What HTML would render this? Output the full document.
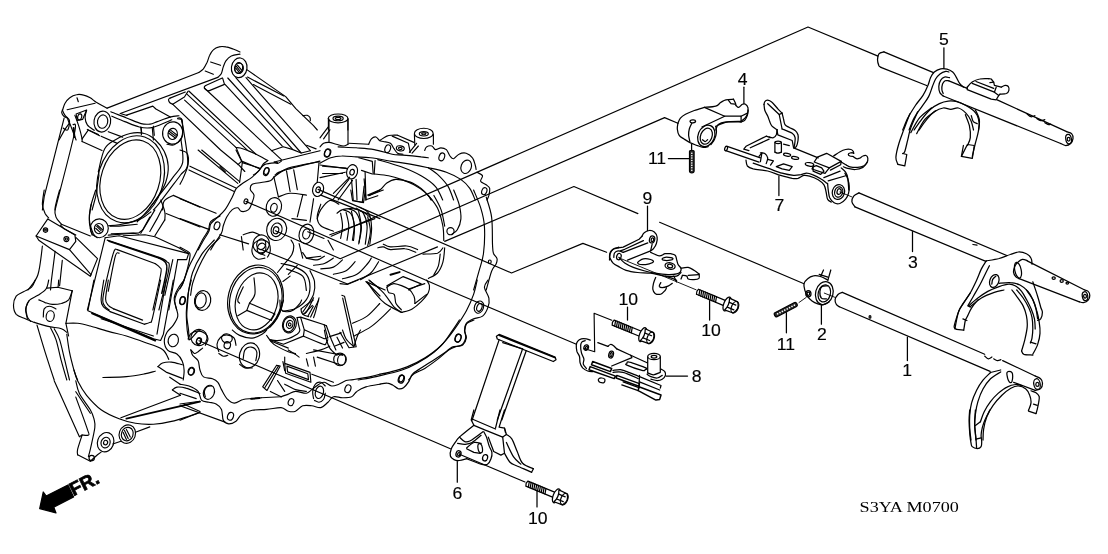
<!DOCTYPE html>
<html lang="en">
<head>
<meta charset="utf-8">
<title>S3YA M0700 - MT Shift Fork</title>
<style>
html,body{margin:0;padding:0;background:#fff;}
body{width:1108px;height:554px;overflow:hidden;}
svg{display:block;filter:grayscale(1);}
svg path,svg ellipse{fill:none;stroke:#000;stroke-width:1.25;stroke-linecap:round;stroke-linejoin:round;}
svg .case path,svg .case ellipse{stroke-width:1.15;}
svg .f{fill:#000;}
svg .w{fill:#fff;}
svg text{font-family:"Liberation Sans",sans-serif;fill:#000;}
svg text.lb{stroke:#000;stroke-width:0.15;}
svg text.ser{font-family:"Liberation Serif",serif;}
</style>
</head>
<body>
<svg width="1108" height="554" viewBox="0 0 1108 554">
<g class="case" id="g10_case_topleft">
<path d="M62.6 110C63 109 63.7 105.6 64.9 103.5C66.1 101.5 67.9 99.2 69.8 97.8C71.7 96.3 74.1 95.1 76.5 94.7C78.8 94.2 81.4 94.5 83.7 95.1C86 95.6 88.1 96.6 90.2 97.8C92.3 99 93.5 100.5 96.3 102.3C99.1 104 105.3 107.2 107.1 108.2"/>
<path d="M67.1 109.7 L95.1 103.2"/>
<path d="M77 97.8 L78.3 101.7"/>
<path d="M62.6 110C62.4 110.5 61.5 111.5 61.7 112.6C61.9 113.6 62.9 115.3 63.8 116.2C64.8 117.1 66.8 117.7 67.4 118"/>
<path d="M67.4 118 L69.2 123.4 L64.9 129.4 L59 140"/>
<path d="M76.1 114 L86.6 110 L82.6 119.4 L77.2 120.5Z"/>
<ellipse cx="79.7" cy="116.9" rx="2" ry="3.1" transform="rotate(15 79.7 116.9)"/>
<ellipse cx="102.3" cy="121.6" rx="8.3" ry="10.5" transform="rotate(10 102.3 121.6)"/>
<ellipse cx="102.6" cy="121.6" rx="5.1" ry="6.7" transform="rotate(10 102.6 121.6)"/>
<path d="M86.6 110.4C86.3 111.6 85 115.2 85.1 117.6C85.2 120 85.8 122.7 87.3 124.8C88.8 126.9 93 129.4 94.2 130.3"/>
<path d="M69.8 123.4 L76.1 140"/>
<path d="M87.3 129.4 L99.6 135.7"/>
<path d="M107.1 108.1 L198.8 72.5"/>
<path d="M198.8 72.5C199.6 71.9 202 70.5 203.4 68.9C204.7 67.2 205.9 64.8 207 62.6C208 60.3 208.6 57.4 209.7 55.3C210.7 53.2 211.7 51.3 213.3 49.9C214.8 48.5 217 47.4 219.1 46.9C221.2 46.3 223.6 46.5 225.9 46.9C228.3 47.2 230.8 48.2 233.1 49C235.5 49.9 238.9 51.4 240 51.9"/>
<path d="M120.3 113.5 L217.8 77.4"/>
<path d="M217.8 77.4C218.4 76.7 220.5 75.1 221.4 73.4C222.3 71.7 222.5 69.2 223.2 67.1C224 65 224.6 62.6 225.9 60.8C227.3 58.9 229 57 231.3 55.9C233.7 54.8 238.6 54.4 240 54.1"/>
<path d="M210.6 62 L220.5 65.3"/>
<path d="M205.2 71 L213.3 74.3"/>
<path d="M110.8 111.8C113.4 112.9 121.6 116 126.6 118C131.7 119.9 137.2 122.6 141.1 123.6C145 124.6 147.4 124.4 150.1 124.1C152.8 123.8 154 122.8 157.3 121.6C160.6 120.4 166.4 118 170 117.1C173.6 116.1 177.5 116 179 115.8"/>
<path d="M111.8 116.2C114 117.1 120.3 119.8 124.8 121.6C129.4 123.4 135.1 126 139.3 127C143.5 128.1 146.8 128.2 150.1 127.9C153.4 127.6 155.5 126.6 159.1 125.2C162.7 123.8 169.7 120.7 171.8 119.8"/>
<path d="M126.6 115.1 L152.8 106.1 L155.9 109 L170.3 117.1"/>
<path d="M120.3 113.5 L127 115.5"/>
<path d="M141.1 127.4 L141.4 134.8"/>
<path d="M152.3 127.9 L153.4 140"/>
<ellipse cx="172.7" cy="133" rx="10.1" ry="11.2" transform="rotate(8 172.7 133)"/>
<ellipse cx="172.7" cy="133.9" rx="4.7" ry="5.6" transform="rotate(8 172.7 133.9)"/>
<path d="M177.5 118.7 L181.9 119.4 L182.6 123.4"/>
<path d="M169.1 131.2 L176.3 136.6"/>
<path d="M170.3 129.9 L177.2 135.3"/>
<path d="M168.5 133 L175 137.8"/>
<path d="M172.7 104.3C172.2 104 170.3 103.2 169.6 102.5C168.9 101.7 168.5 100.3 168.5 99.6C168.6 98.8 169.7 98.4 170 98.1"/>
<path d="M170 98.1 L185.3 92"/>
<path d="M188 91.4 L184.4 97 L172.7 104.3"/>
<path d="M208.8 90.9C208.3 90.7 206.5 90.3 205.7 89.6C205 89 204.3 87.6 204.3 86.9C204.3 86.2 205.5 85.7 205.7 85.5"/>
<path d="M205.7 85.5 L222.3 77.9"/>
<path d="M222.7 78.3 L224.5 84.4 L208.8 90.9"/>
<ellipse cx="238.6" cy="68" rx="4" ry="5.4" transform="rotate(8 238.6 68)"/>
</g>
<g class="case" id="g11_case_ribs">
<ellipse cx="239.2" cy="67.8" rx="7.8" ry="9.9" transform="rotate(8 239.2 67.8)"/>
<ellipse cx="239.2" cy="68.3" rx="4.2" ry="5.1" transform="rotate(8 239.2 68.3)"/>
<path d="M236.4 66.3 L240.8 72"/>
<path d="M237.4 65.1 L242.1 70.7"/>
<path d="M235.8 68.2 L240 73.3"/>
<path d="M247.2 69.9 L285.7 96.6 L295.8 108.6 L313.5 125.7 L317.3 130"/>
<path d="M247.5 77.1 L283.8 96"/>
<path d="M253.5 84.6 L290.8 104.2"/>
<path d="M302.8 115.6C303.5 115.6 306 115 307.2 115.3C308.4 115.7 309.4 116.6 310 117.5C310.5 118.4 310.3 120.1 310.3 120.7"/>
<ellipse cx="338.1" cy="118.4" rx="9.9" ry="4.4"/>
<ellipse cx="338.1" cy="118.4" rx="5.1" ry="2.3"/>
<ellipse cx="338.1" cy="118.4" rx="2.8" ry="1.1"/>
<path d="M328.4 118.8 L328.4 130"/>
<path d="M347.9 118.8 L347.9 130"/>
<path d="M172.6 104.2 L220.6 150 L238.5 164.7 L244.8 171.5"/>
<path d="M184.6 100.1 L236.2 147.6"/>
<path d="M187.2 94.4 L247.1 149.8"/>
<path d="M188.8 91 L256.1 154.3"/>
<path d="M204.3 88 L281.4 159.7"/>
<path d="M225 84.4 L282.3 146.2"/>
<path d="M227.8 78 L292.2 148.9"/>
<path d="M235.8 77.7 L301.2 153"/>
<path d="M246 77.7 L310.3 150.7"/>
<path d="M236.2 147.6 L241.7 161.1 L238 164.7"/>
<path d="M236.2 147.6C236.9 147.7 238.5 147.6 240.3 148C242.1 148.4 244.5 149.2 247.1 150.3C249.7 151.4 252.7 152.6 256.1 154.3C259.6 156 265.9 159.6 267.8 160.6"/>
<path d="M241.7 161.1 L259.7 168.8"/>
<path d="M271.4 150.7 L283.2 146.7 L292.2 149.4 L301.2 153 L310.3 150.7"/>
<path d="M306.6 145.3 L316.1 148.9"/>
<path d="M274.2 162 L320 150.7"/>
<path d="M267.8 160.6C267.1 161.1 264.5 162.5 263.3 163.8C262.1 165.1 261.5 167 260.6 168.3C259.7 169.7 259.1 170.8 257.9 171.9C256.7 173 254.2 174.5 253.4 175"/>
<path d="M274.2 162C274.8 162.2 276.6 163.6 277.8 163.4C279 163.2 280.8 161.5 281.4 161.1"/>
<ellipse cx="266.5" cy="171" rx="2.3" ry="3.6" transform="rotate(20 266.5 171)"/>
<path d="M275 175C276.4 174.3 275.7 172.9 283.2 170.6C290.7 168.3 313.9 162.7 320 161.1"/>
<path d="M220 166.5 L225.4 172"/>
</g>
<g class="case" id="g12_case_left">
<ellipse cx="130.3" cy="179.6" rx="29.1" ry="40.7" transform="rotate(18.4 130.3 179.6)"/>
<ellipse cx="130.6" cy="179.3" rx="32.5" ry="44.5" transform="rotate(18.4 130.6 179.3)"/>
<path d="M98.4 171.4C99.4 167.6 101.8 154.1 104.7 148.8C107.6 143.5 111.3 142.3 115.5 139.8C119.7 137.2 125.2 134.5 130 133.5C134.8 132.4 140.2 132.4 144.4 133.5C148.6 134.5 151.9 136.8 155.2 139.8C158.5 142.8 162.1 147.2 164.3 151.5C166.4 155.9 168 160.8 168.2 166C168.5 171.1 167.4 177.1 165.7 182.2C164 187.3 161 191.8 157.9 196.6C154.8 201.5 150.6 206.9 147.1 211.1C143.7 215.3 138.8 220.1 137.2 221.9"/>
<path d="M98.4 171.4 L98.9 175.3 L95.7 196.6 L92.1 210"/>
<path d="M62.3 110C62.7 110.9 63.8 113.6 65 115.4C66.2 117.2 69 118.4 69.5 120.8C69.9 123.2 68.7 128.7 67.7 129.9C66.6 131.1 63.9 128.4 63.2 128.1"/>
<path d="M64.1 118.1 L44.2 196.6 L42.4 210"/>
<path d="M73.1 124.4C73.3 125.9 77.4 119.2 74.4 133.5C71.4 147.7 58.3 197.2 55.1 210"/>
<path style="stroke-width:2" d="M73.6 128.1 L74.4 137.1"/>
<path d="M74.9 115.4C75.7 117.5 78.2 124.1 79.4 128.1C80.6 132 81.7 137.1 82.1 138.9"/>
<path d="M82.1 141.6 L102 150.6"/>
<path d="M82.1 138.9 L82.1 141.6"/>
<path d="M82.1 138.9 L88.4 129.9 L98.4 134.4"/>
<path d="M108.3 131.7 L122.7 137.1"/>
<path d="M101.1 136.2 L117.3 143.4"/>
<path d="M140.8 127.1 L141.7 132.6"/>
<path d="M153.4 126.2 L154.3 135.3"/>
<path d="M177.8 118.1C178.4 118.3 180.6 116.8 181.4 119C182.2 121.3 182.8 128.4 182.7 131.7C182.6 135 182.3 136.7 180.9 138.9C179.5 141.1 176.5 143.9 174.2 144.8C171.9 145.7 168.2 144.4 167 144.3"/>
<path d="M181.4 119C181.9 121.4 183.1 125.9 184.1 133.5C185.2 141 188.3 157.2 187.7 164.2C187.1 171.1 183.5 170.8 180.5 175C177.5 179.2 173.3 184.6 169.7 189.4C166.1 194.2 161.6 200.4 158.8 203.9C156.1 207.3 154.3 209 153.4 210"/>
<path d="M180.9 138.9C181.2 142.8 183.9 156 182.7 162.3C181.4 168.7 176.7 172 173.3 176.8C169.9 181.6 166.4 186.1 162.5 191.2C158.5 196.3 151.9 204.8 149.8 207.5"/>
<ellipse cx="99.3" cy="228.3" rx="9" ry="9.4"/>
<ellipse cx="98.9" cy="228.6" rx="4.5" ry="5.1"/>
<path d="M96.6 226.1 L101.1 230.6"/>
<path d="M97.5 225.2 L102.5 229.7"/>
<path d="M95.7 228.3 L100.2 232.4"/>
<path d="M95.7 190C94.8 193 91.3 202.6 90.3 208.1C89.2 213.5 89 218 89.4 222.5C89.7 227 91.6 233 92.1 235.1"/>
<path d="M108.3 235.1 L133.6 233.3 L139 234.2"/>
<path d="M110.1 226.1 L119.1 226.1 L137.2 224.3"/>
<path d="M173.3 195.4 L200 207.1"/>
<path d="M166.1 213.5 L200 227"/>
<path d="M162.5 209.9C162.8 208.4 162.5 203.2 164.3 200.8C166.1 198.4 171.8 196.3 173.3 195.4"/>
<path d="M162.5 208.1 L157 218.9 L149.8 231.5"/>
<path d="M140.8 233.3 L149.8 217.1"/>
<path d="M44.2 190C43.9 192.4 42.3 200.5 42.4 204.4C42.6 208.4 44.1 211.2 45.1 213.5C46.2 215.7 48.1 217.2 48.7 218"/>
<path d="M59.6 190C58.8 193 55.7 203.5 55.1 208.1C54.5 212.6 54.9 214.4 56 217.1C57 219.8 60.5 223.1 61.4 224.3"/>
<path d="M61.4 224.3 L90.3 236"/>
<path d="M36.1 236 L47.8 218.9 L74.9 235.1 L75.8 241.4 L69.5 249.6Z"/>
<ellipse cx="45.5" cy="230.1" rx="2.2" ry="2.2"/>
<ellipse cx="66.4" cy="239.1" rx="2.5" ry="2.5"/>
<ellipse cx="45.5" cy="230.1" rx="0.9" ry="0.9"/>
<ellipse cx="66.4" cy="239.1" rx="1.1" ry="1.1"/>
<path d="M36.1 236 L38.8 240.2 L90.3 276.3 L97.5 258.6 L75.8 237.3"/>
<path d="M69.5 249.6 L91.2 274.8"/>
<path d="M60.5 225.2 L64.1 228.8 L75.8 235.1"/>
<path d="M42.4 246C41.7 250.8 40.3 267.5 37.9 274.8C35.5 282.2 29.6 287.5 28 290"/>
<path d="M55.1 251.4C54.5 256.2 52.2 273.8 51.4 280.3C50.7 286.7 50.7 288.4 50.5 290"/>
<path d="M62.3 260.4 L59.6 285.7"/>
</g>
<g class="case" id="g13_case_lowerleft">
<path d="M35.2 280C34.6 281.2 33.5 285.3 31.6 287.2C29.6 289.2 26 290.2 23.5 291.7C20.9 293.2 17.9 294 16.2 296.2C14.6 298.5 13.5 302.3 13.5 305.3C13.5 308.3 14.3 312 16.2 314.3C18.2 316.6 22.3 317.5 25.3 318.8C28.3 320.2 32.8 321.8 34.3 322.4"/>
<path d="M48.7 280C48.3 281.5 47.8 286.5 46 289C44.2 291.6 40.6 293.5 37.9 295.3C35.2 297.1 31.7 297.9 29.8 299.9C27.8 301.8 26.6 304.4 26.2 307.1C25.7 309.8 26.3 313.7 27.1 316.1C27.8 318.5 30.1 320.6 30.7 321.5"/>
<path d="M28.9 300.8C28.3 302.1 25.9 305.9 25.6 308.9C25.4 311.9 27.1 317.2 27.4 318.8"/>
<path d="M46.9 288.1 L57.8 287.2 L72.2 290.8"/>
<path d="M72.2 290.8C71.6 292.3 70.4 297.7 68.6 299.9C66.8 302 64.1 302.7 61.4 303.5C58.7 304.2 55.1 304.5 52.3 304.4C49.6 304.2 47.4 303.3 45.1 302.6C42.9 301.8 39.9 300.3 38.8 299.9"/>
<ellipse cx="50.2" cy="316.1" rx="4" ry="5.4" transform="rotate(10 50.2 316.1)"/>
<path d="M43.3 317C43.5 315.6 43.2 310.7 44.2 308.9C45.3 307.1 47.7 306.2 49.6 306.2C51.6 306.2 54.9 308.4 56 308.9"/>
<path d="M72.2 290.8 L65.9 323.3 L68.6 336"/>
<path d="M65.9 323.3C67.8 323.3 73.6 322.9 77.6 323.3C81.7 323.8 85.1 324.7 90.3 326C95.4 327.4 102.3 329.8 108.3 331.4C114.3 333.1 120.3 334.2 126.4 336C132.4 337.8 138.4 340 144.4 342.3C150.4 344.5 158.4 346.6 162.5 349.5C166.5 352.4 167.7 357.8 168.8 359.4"/>
<path d="M34.3 322.4C35.8 322.9 40.6 324.4 43.3 325.1C46 325.9 47.5 326.3 50.5 326.9C53.5 327.5 58.7 327.8 61.4 328.7C64.1 329.6 65.9 331.7 66.8 332.3"/>
<path d="M37 325.1C38.4 329.6 42.3 343.1 45.1 352.2C48 361.3 52.6 375.4 54.2 380"/>
<path d="M50.5 327.8C51.4 329.8 54.2 334 56 339.6C57.8 345.1 59.6 354.5 61.4 361.2C63.2 368 65.9 376.9 66.8 380"/>
<path d="M54.2 328.7C55.1 330.5 57.8 334.2 59.6 339.6C61.4 345 63.3 354.5 65 361.2C66.6 368 68.7 376.9 69.5 380"/>
<path d="M66.8 334.2C67.2 337.2 68.3 346.2 69.5 352.2C70.7 358.2 72.7 365.6 74 370.3C75.4 374.9 77 378.4 77.6 380"/>
<path d="M58.7 280 L58.1 287.2"/>
<path d="M93.9 280 L87.9 310.7 L153.4 338.7 L160.6 340.5 L163.4 334.2 L173.3 280"/>
<path d="M103.8 280C103.3 283.3 101.1 295.3 101.1 299.9C101.1 304.4 102.3 305.1 103.8 307.1C105.3 309 109.1 310.8 110.1 311.6"/>
<path d="M110.1 311.6 L144.4 324.2"/>
<path d="M144.4 324.2C145.3 323.9 148.5 323.5 149.8 322.4C151.2 321.4 150.7 325 152.5 317.9C154.3 310.8 159.3 286.3 160.6 280"/>
<path d="M108.3 280C107.9 283.2 105.6 294.7 105.6 299C105.6 303.2 106.9 303.6 108.3 305.3C109.7 306.9 112.8 308.3 113.7 308.9"/>
<path d="M113.7 308.9 L142.6 320.1"/>
<path style="stroke-width:2" d="M92.1 313.4 L155.2 340.5"/>
<path d="M166.1 280 L157 334.2"/>
<path d="M101.1 318.8 L153.4 336"/>
<ellipse cx="182.3" cy="300.8" rx="2.5" ry="4" transform="rotate(15 182.3 300.8)"/>
<ellipse cx="173.3" cy="340.5" rx="5.1" ry="6.3" transform="rotate(15 173.3 340.5)"/>
<ellipse cx="191.3" cy="371.2" rx="3.2" ry="4" transform="rotate(15 191.3 371.2)"/>
<ellipse cx="198.6" cy="341.4" rx="2.2" ry="3.2" transform="rotate(15 198.6 341.4)"/>
<path d="M184.1 280C183.1 281.5 179.5 286 177.8 289C176.1 292 174.5 295 174.2 298.1C173.9 301.1 175.4 304.1 176 307.1C176.6 310.1 178.2 313.1 177.8 316.1C177.3 319.1 175.1 322.4 173.3 325.1C171.5 327.8 168.5 329.6 167 332.3C165.5 335.1 164.1 338.4 164.3 341.4C164.4 344.4 165.8 348.3 167.9 350.4C170 352.5 174.5 352.2 176.9 354C179.3 355.8 181.1 358.5 182.3 361.2C183.5 363.9 184 367.1 184.1 370.3C184.3 373.4 183.4 378.4 183.2 380"/>
<path d="M191.3 280C190.9 281.8 189.2 287.2 188.6 290.8C188 294.4 188 297.4 187.7 301.7C187.4 305.9 186.7 311.3 186.8 316.1C187 320.9 188.2 326.6 188.6 330.5C189.1 334.5 188.2 339.3 189.5 339.6C190.9 339.9 195 333.9 196.8 332.3C198.5 330.8 199.5 330.8 200 330.5"/>
<path d="M157.9 366.6C158.7 366 160.2 363.8 162.5 363C164.7 362.3 168.2 361.8 171.5 362.1C174.8 362.4 180.5 364.4 182.3 364.8"/>
<path d="M157.9 366.6 L166.1 372.1 L182.3 378.4"/>
<path d="M102.9 377.5C106.8 377.3 119.4 377.2 126.4 376.6C133.3 376 139.6 374.8 144.4 373.9C149.2 373 153.4 371.6 155.2 371.2"/>
<path d="M54.2 380.8 L79.4 436.8 L82.1 435"/>
<path d="M82.1 435C81.4 437.4 78.4 446.1 77.6 449.4C76.9 452.7 77.6 453.9 77.6 454.8"/>
<path d="M77.6 454.8 L90.3 461.2"/>
<path d="M75.8 397.1C77.8 402.5 85.4 423.2 87.5 429.6C89.7 435.9 89.4 434.1 88.4 435C87.5 435.9 83.2 435 82.1 435"/>
<path d="M75.8 380.8C76.4 382.9 77 388.7 79.4 393.5C81.8 398.3 87.8 405.5 90.3 409.7C92.7 413.9 93.1 415.7 93.9 418.7C94.6 421.7 95.4 422.6 94.8 427.8C94.2 432.9 91.3 444.6 90.3 449.4C89.2 454.2 88.7 455.4 88.4 456.6"/>
<path d="M75.8 391.7 L90.3 413.3"/>
<path d="M74 370C74.6 371.8 75.5 376.6 77.6 380.8C79.7 385 82.7 390.5 86.6 395.3C90.6 400.1 95.7 405.8 101.1 409.7C106.5 413.6 113.4 416.5 119.1 418.7C124.8 421 129.7 422.3 135.4 423.2C141.1 424.2 147.4 424.5 153.4 424.2C159.4 423.9 165.5 422.8 171.5 421.4C177.5 420.1 184.8 417.5 189.5 416C194.3 414.5 198.3 413 200 412.4"/>
<ellipse cx="91.7" cy="458.1" rx="2.7" ry="2.7"/>
<ellipse cx="105.6" cy="442.2" rx="8.1" ry="9.9" transform="rotate(20 105.6 442.2)"/>
<ellipse cx="105.6" cy="442.6" rx="4.5" ry="5.4" transform="rotate(20 105.6 442.6)"/>
<ellipse cx="105.6" cy="442.6" rx="2" ry="2.3" transform="rotate(20 105.6 442.6)"/>
<ellipse cx="127.3" cy="434.1" rx="8.1" ry="9.4" transform="rotate(20 127.3 434.1)"/>
<ellipse cx="127.3" cy="434.1" rx="5.8" ry="6.9" transform="rotate(20 127.3 434.1)"/>
<path d="M124.5 430.5 L128.2 438.6"/>
<path d="M126.4 429.6 L130.3 437.1"/>
<path d="M123.1 432.3 L126.4 439.5"/>
<path d="M90.3 461.2 L97.5 454.8 L101.1 452.1"/>
<path d="M112.8 444 L120.9 441.3"/>
<path d="M135.4 432.3 L149.8 426.9"/>
<path d="M120.9 417.8 L180.5 395.3"/>
<path style="stroke-width:1.8" d="M126.4 418.7 L200 401.6"/>
<path d="M184.1 404.3 L200 411.5"/>
<path d="M172.4 389.9C173.1 389.4 174.6 387.4 176.9 387.1C179.2 386.8 182.1 387 185.9 388.1C189.8 389.1 197.7 392.6 200 393.5"/>
<path d="M172.4 389.9 L180.5 395.3"/>
<path d="M169.7 377.2 L180.5 384.4"/>
</g>
<g class="case" id="g13b_window">
<path d="M105.2 237.7 L87.4 310"/>
<path d="M105.2 237.7 L119.1 235.7 L188.6 253.6 L186.7 259.6 L177.7 259.6"/>
<path d="M107.2 240.1 L158.9 257.2"/>
<path d="M158.9 257.2C160.2 257.9 165.1 259.5 166.8 261.6C168.5 263.6 170.1 261.4 168.8 269.5C167.5 277.6 160.5 303.3 158.9 310"/>
<path style="stroke-width:1.6" d="M109.2 241.3 L158.9 258"/>
<path style="stroke-width:1.6" d="M158.9 258C159.9 258.6 163.9 260 165.2 262C166.5 263.9 167.4 264.3 166.8 269.5C166.2 274.7 162.7 289.4 161.8 293.3"/>
<path d="M109.2 310C108.4 309.2 105.2 307.7 104.2 305.2C103.3 302.8 101.8 303.9 103.3 295.3C104.7 286.7 110.9 261.2 113.2 253.6C115.5 246 116.5 250.3 117.2 249.6"/>
<path d="M117.2 249.6 L154.9 263.5"/>
<path d="M154.9 263.5C155.7 264.2 158.9 265.9 159.8 267.5C160.8 269.2 162 266.4 160.8 273.5C159.7 280.6 154.2 303.9 152.9 310"/>
<path d="M108.2 291.3C109.4 285.6 113.4 262.9 115.2 256.6C117 250.2 118.5 253.8 119.1 253.2"/>
<path d="M177.7 259.6 L168.8 310"/>
<path d="M172.8 259.6 L164.8 295.3"/>
<path d="M91.3 204C91 206.6 89 214.9 89.4 219.9C89.7 224.8 92 230.8 93.3 233.8C94.7 236.7 96.6 237.1 97.3 237.7"/>
<path d="M108.2 225.8C110 225.6 114 225.8 119.1 224.8C124.3 223.8 133.7 222 139 219.9C144.3 217.7 148.9 213.2 150.9 211.9"/>
<path d="M111.2 233.8 L139 232.8 L143 229.8 L154.9 209.9"/>
<path d="M123.1 235.7 L145 234.7 L154.9 236.7 L178.7 247.7 L188.6 253.6"/>
<path d="M154.9 235.7 L164.8 219.9"/>
<path d="M164.8 219.9C164.8 218.5 165.5 215.2 164.8 211.9C164.2 208.6 161.5 202 160.8 200"/>
<path d="M220 215.9C218.4 216.9 212.4 219.5 210.5 221.8C208.6 224.2 209.8 226.8 208.5 229.8C207.2 232.8 204.9 235.4 202.5 239.7C200.2 244 196.9 251 194.6 255.6C192.3 260.2 190.6 262.9 188.6 267.5C186.7 272.1 184.7 279.1 182.7 283.4C180.7 287.7 178.1 290.3 176.7 293.3C175.4 296.3 174.7 298.5 174.7 301.3C174.7 304.1 176.4 308.6 176.7 310"/>
<path d="M220 237.7C218.1 239.7 212.1 244.7 208.5 249.6C204.9 254.6 201.2 261.9 198.6 267.5C195.9 273.1 193.9 278.8 192.6 283.4C191.3 288 191 293.3 190.6 295.3"/>
</g>
<g class="case" id="g14_case_mid1">
<path d="M277.5 162.6C275.4 162.9 267.8 163.2 264.8 164.4C261.8 165.6 261.5 167.7 259.4 169.9C257.3 172 255.2 174.7 252.2 177.1C249.2 179.5 244.1 182.3 241.4 184.3C238.7 186.3 237.5 186.7 236 188.8C234.5 190.9 234.2 193.5 232.3 196.9C230.5 200.4 227.8 206 225.1 209.6C222.4 213.2 218.5 216.2 216.1 218.6C213.7 221 211.9 221.9 210.7 224C209.5 226.1 210.1 228.5 208.9 231.2C207.7 233.9 205.3 237.1 203.5 240.3C201.7 243.4 199 248.4 198.1 250"/>
<path d="M273.9 177.1C273.3 177.7 272.4 179.8 270.3 180.7C268.1 181.6 264.2 181.9 261.2 182.5C258.2 183.1 254 183.1 252.2 184.3C250.4 185.5 250.1 187.9 250.4 189.7C250.7 191.5 253.7 193 254 195.1C254.3 197.2 253.1 199.9 252.2 202.3C251.3 204.8 250.4 208.1 248.6 209.6C246.8 211.1 243.2 211.7 241.4 211.4C239.6 211.1 239.3 208.1 237.8 207.8C236.3 207.5 234.2 208.1 232.3 209.6C230.5 211.1 228.4 214.1 226.9 216.8C225.4 219.5 224.2 223.1 223.3 225.8C222.4 228.5 223 230 221.5 233C220 236 216.1 241 214.3 243.9C212.5 246.7 211.3 249 210.7 250"/>
<ellipse cx="266.3" cy="171.7" rx="2.5" ry="4" transform="rotate(20 266.3 171.7)"/>
<ellipse cx="217" cy="225.8" rx="2.7" ry="4" transform="rotate(20 217 225.8)"/>
<ellipse cx="327.7" cy="152.7" rx="2.9" ry="4" transform="rotate(20 327.7 152.7)"/>
<ellipse cx="245.9" cy="201.4" rx="1.8" ry="2.5" transform="rotate(20 245.9 201.4)"/>
<path d="M273.9 177.1C276.3 175.6 280.8 170.6 288.3 168.1C295.8 165.5 313.9 162.8 319 161.7"/>
<ellipse cx="318.1" cy="189.4" rx="5.4" ry="7.2" transform="rotate(15 318.1 189.4)"/>
<ellipse cx="318.1" cy="189.7" rx="2.2" ry="2.9" transform="rotate(15 318.1 189.7)"/>
<ellipse cx="273.9" cy="206.9" rx="7.6" ry="9.4" transform="rotate(15 273.9 206.9)"/>
<ellipse cx="273.9" cy="207.8" rx="3.2" ry="4.5" transform="rotate(15 273.9 207.8)"/>
<ellipse cx="276.6" cy="229.4" rx="9.9" ry="11.2" transform="rotate(15 276.6 229.4)"/>
<ellipse cx="276.6" cy="229.8" rx="5.4" ry="6.9" transform="rotate(15 276.6 229.8)"/>
<ellipse cx="276" cy="230.3" rx="2.7" ry="3.6" transform="rotate(15 276 230.3)"/>
<ellipse cx="306.4" cy="233.9" rx="7.2" ry="9.9" transform="rotate(15 306.4 233.9)"/>
<ellipse cx="306.4" cy="233.9" rx="3.6" ry="5.1" transform="rotate(15 306.4 233.9)"/>
<ellipse cx="261.2" cy="243.9" rx="8.1" ry="9" transform="rotate(15 261.2 243.9)"/>
<ellipse cx="261.2" cy="244.2" rx="4.5" ry="5.4" transform="rotate(15 261.2 244.2)"/>
<path d="M243.2 234.8C244.7 234.4 249.5 232.1 252.2 232.1C254.9 232.1 258.2 234.4 259.4 234.8"/>
<path d="M241.4 236.6 L243.2 250"/>
<path d="M198.1 150 L237.8 183.4"/>
<path d="M201.7 150 L239.6 181.6"/>
<path d="M189.9 166.2 L236 187.9"/>
<path d="M189 169.9 L234.2 191.5"/>
<path d="M180 198.7 L216.1 213.2"/>
<path d="M180 218.6 L208.9 229.4"/>
<path d="M219.7 234.8 L248.6 243.9"/>
<path d="M180 150C181.2 150.6 185.9 151.2 187.2 153.6C188.6 156 188.7 160.5 188.1 164.4C187.5 168.4 185 173.8 183.6 177.1C182.3 180.4 180.6 183.1 180 184.3"/>
<path d="M236 150 L242.3 162.6 L239.6 182.5"/>
<path d="M242.3 162.6 L259.4 168.1"/>
<path d="M273.9 177.1 L278.4 196.9"/>
<path d="M286.5 170.8 L290.1 191.5"/>
<path d="M293.7 169.9 L297.3 189.7"/>
<path d="M278.4 196.9C280.3 196.3 285.4 193.6 290.1 193.3C294.8 193 303.6 194.8 306.4 195.1"/>
<path d="M319 162.6 L317.2 182.5"/>
<path d="M302.7 195.1 L297.3 216.8"/>
<path d="M313.6 198.7 L310 222.2"/>
<path d="M291.9 218.6 L306.4 220.4"/>
<path d="M322.6 166.2 L346.1 168.1"/>
<path d="M322.6 173.5 L342.5 173.5"/>
<path d="M333.4 193.3 L349.7 177.1"/>
<path d="M320.8 195.1 L380 218.6"/>
<path d="M351.5 179.8 L353.3 200.5 L362.3 202.3 L364.1 186.1"/>
<path d="M364.1 178.9 L365.9 198.7"/>
<path d="M367.7 195.1 L380 189.7"/>
<path d="M317.2 218.6C317.8 217.1 318.7 212.6 320.8 209.6C322.9 206.6 326.8 201.4 329.8 200.5C332.8 199.6 337.3 203.5 338.8 204.2"/>
<path d="M337 213.2C337.9 212.6 339.7 210.3 342.5 209.6C345.2 208.8 350 208.4 353.3 208.7C356.6 209 359.6 210 362.3 211.4C365 212.7 368.3 215.9 369.5 216.8"/>
<path d="M340.6 213.2C341 215.3 342.5 221.6 342.5 225.8C342.5 230 341 236.3 340.6 238.4"/>
<path d="M346.1 212.3C346.5 214.5 348.6 221.1 348.8 225.8C348.9 230.5 347.3 237.8 347 240.3"/>
<path d="M351.5 211.4C351.9 213.8 354 221 354.2 225.8C354.3 230.6 352.7 237.8 352.4 240.3"/>
<path d="M358.7 211.4C359.2 214.1 361.4 222.2 361.4 227.6C361.4 233 359.2 241.2 358.7 243.9"/>
<path d="M367.7 216.8C368.2 219.2 370.4 226.4 370.4 231.2C370.4 236 368.2 243.3 367.7 245.7"/>
<path d="M329.8 234.8 L374.9 218.6"/>
<path d="M320.8 204.2C320.2 206.3 317.2 213.2 317.2 216.8C317.2 220.4 318.1 223.4 320.8 225.8C323.5 228.2 331.3 230.3 333.4 231.2"/>
<path d="M328 240.3 L333.4 250"/>
</g>
<g class="case" id="g15_case_mid2">
<ellipse cx="255.5" cy="299.5" rx="27.4" ry="34.8" transform="rotate(13.7 255.5 299.5)"/>
<ellipse cx="256.6" cy="301.4" rx="20.8" ry="28.9" transform="rotate(15 256.6 301.4)"/>
<ellipse cx="255.8" cy="300.2" rx="25.8" ry="33.2" transform="rotate(14 255.8 300.2)"/>
<path d="M249.5 303.2 L274.8 314"/>
<path d="M246.8 310.4 L271.2 320.3"/>
<path d="M249.5 303.2 L246.8 310.4 L237.8 315.8"/>
<path d="M274.8 314 L271.2 320.3"/>
<path d="M254 277.9C254.2 280.6 255.7 289.9 254.9 294.2C254.2 298.4 250.4 301.7 249.5 303.2"/>
<path d="M243.2 286.9C242.3 289 238.4 296.9 237.8 299.6C237.2 302.3 239.3 302.6 239.6 303.2"/>
<path d="M264.8 258.1C263.6 258.2 259.7 259.9 257.6 259C255.5 258.1 252.8 255.2 252.2 252.6C251.6 250.1 252.5 245.7 254 243.6C255.5 241.5 258.8 240.2 261.2 240C263.6 239.8 266.9 240.9 268.4 242.7C270 244.5 270.4 248.4 270.3 250.8C270.1 253.2 268 256.1 267.5 257.1"/>
<ellipse cx="261.6" cy="248.5" rx="4.3" ry="5.4" transform="rotate(15 261.6 248.5)"/>
<path d="M259.4 253.5 L264.8 255.3"/>
<path d="M214.3 240C212.2 242.4 205.3 249 201.7 254.4C198.1 259.9 194.9 265.9 192.6 272.5C190.4 279.1 189.2 287.5 188.1 294.2C187.1 300.8 186.5 306.2 186.3 312.2C186.2 318.2 186.8 325.6 187.2 330.3C187.7 334.9 188.7 338.4 189 340"/>
<path d="M180 247.2C181.4 248 186.5 250.1 188.1 251.7C189.8 253.4 190.7 252.2 189.9 257.1C189.2 262.1 185.3 276.3 183.6 281.5C182 286.8 180.6 287.5 180 288.7"/>
<ellipse cx="202.6" cy="300.5" rx="8.1" ry="9.9" transform="rotate(10 202.6 300.5)"/>
<ellipse cx="200.8" cy="300.5" rx="5.4" ry="7.6" transform="rotate(10 200.8 300.5)"/>
<ellipse cx="182.7" cy="300.5" rx="2.7" ry="4" transform="rotate(10 182.7 300.5)"/>
<ellipse cx="199" cy="337.5" rx="8.1" ry="8.1" transform="rotate(10 199 337.5)"/>
<ellipse cx="226.9" cy="338.4" rx="5.4" ry="4.5" transform="rotate(10 226.9 338.4)"/>
<path d="M281.1 263.5C283.5 264.1 291.3 265.3 295.5 267.1C299.7 268.9 303.9 271 306.4 274.3C308.8 277.6 310 282.7 310 286.9C310 291.1 308.8 296 306.4 299.6C303.9 303.2 299.4 306.6 295.5 308.6C291.6 310.5 285 310.8 282.9 311.3"/>
<path d="M286.5 268.9C289.2 270.1 299.4 272.5 302.7 276.1C306.1 279.7 305.8 288.1 306.4 290.5"/>
<path d="M277.5 272.5C278.7 271 282.3 266.5 284.7 263.5C287.1 260.5 290.4 257.4 291.9 254.4C293.4 251.4 293.9 247.8 293.7 245.4C293.6 243 291.5 240.9 291 240"/>
<path d="M288.3 274.3 L297.3 265.3"/>
<path d="M282.9 281.5 L290.1 276.1"/>
<path d="M306.4 258.1C308.2 258.4 314.2 260.2 317.2 259.9C320.2 259.6 323.2 256.8 324.4 256.2"/>
<path d="M313.6 265.3C315.4 265 321.1 264.7 324.4 263.5C327.7 262.3 331.9 259 333.4 258.1"/>
<path d="M320.8 268.9C322.9 268.6 329.8 268.6 333.4 267.1C337 265.6 341 261.1 342.5 259.9"/>
<path d="M333.4 274.3C335.5 273.7 342.5 272.8 346.1 270.7C349.7 268.6 353.6 263.2 355.1 261.7"/>
<path d="M342.5 278.8C344.9 278.1 352.7 276.9 356.9 274.3C361.1 271.7 365.3 266.2 367.7 263.5C370.1 260.8 370.7 259 371.3 258.1"/>
<path d="M360.5 279.7C362.3 278.5 368.3 275.5 371.3 272.5C374.3 269.5 377.4 263.5 378.6 261.7"/>
<path d="M302.7 252.6 L306.4 258.1 L320.8 256.2"/>
<path d="M299.1 243.6 L302.7 258.1"/>
<path d="M365.9 281.5 L380 296"/>
<path d="M369.5 280.6 L380 288.7"/>
<path d="M319 297.8C318.4 300.2 316.3 308.9 315.4 312.2C314.5 315.5 313.9 316.7 313.6 317.6"/>
<path d="M313.6 297.8C312.4 300.2 308.2 309.5 306.4 312.2C304.5 314.9 303.3 313.7 302.7 314"/>
<path d="M310 270.7C310.7 272.5 313.9 277.6 314.5 281.5C315.1 285.4 314.9 289.9 313.6 294.2C312.2 298.4 308.2 303.8 306.4 306.8C304.5 309.8 303.3 311.3 302.7 312.2"/>
<ellipse cx="289.4" cy="324.4" rx="6.8" ry="8.6" transform="rotate(15 289.4 324.4)"/>
<ellipse cx="289" cy="324.5" rx="5.6" ry="7.4" transform="rotate(15 289 324.5)"/>
<ellipse cx="289.7" cy="324.4" rx="3.2" ry="4.1" transform="rotate(15 289.7 324.4)"/>
<ellipse cx="289.7" cy="324.5" rx="1.3" ry="1.6" transform="rotate(15 289.7 324.5)"/>
<path d="M297.1 317.6 L300.7 317.1 L324.2 324.8 L326.4 325.7"/>
<path d="M300.7 317.6 L304.3 329.8 L324.2 338.8 L327.8 337.9"/>
<path d="M326.4 325.7 L331.4 339.7 L335.9 350"/>
<path d="M324.2 324.8 L327.8 337.9"/>
<path d="M303.4 336.1C306.7 337.5 319.5 343 323.2 344.2C327 345.4 325.2 344.1 326 343.3C326.7 342.6 327.5 340.3 327.8 339.7"/>
<path d="M297.1 317.6C297.4 319 298.4 324 298.9 326.2C299.3 328.4 300.1 329.3 299.8 330.7C299.5 332 299 332.9 297.1 334.3C295.1 335.6 291.4 337.8 288.1 338.8C284.7 339.9 280.2 340.5 277.2 340.6C274.2 340.8 271.2 339.9 270 339.7"/>
<path d="M304.3 329.8 L303.4 336.1 L283.5 344.2 L270 339.7"/>
<path d="M301.1 309C301.2 309.6 301.1 311.6 301.6 312.6C302.1 313.7 303.1 314.7 304.3 315.3C305.5 316 308.1 316.5 308.8 316.7"/>
<path d="M301.1 309C302.3 308.1 305.9 305.1 307.9 303.6C309.9 302.1 312.4 300.6 313.3 300"/>
<path d="M303.4 314.4 L312.4 305.4"/>
<path d="M307.9 316.2 L313.3 306.3"/>
<path d="M310.6 317.1 L315.1 307.2 L318.7 300"/>
<path d="M329.6 336.6 L341.3 332.9"/>
<path d="M335 346 L344 342.4"/>
<path d="M279.9 300C280.1 301.5 279.8 307.1 280.8 309C281.9 311 284.1 311.6 286.2 311.7C288.4 311.9 291.2 311.3 293.5 309.9C295.7 308.6 298.4 305.3 299.8 303.6C301.1 302 301.3 300.6 301.6 300"/>
<path d="M270 327.1C270.8 326.2 273 323.9 274.5 321.7C276 319.4 277.5 317.1 279 313.5C280.5 309.9 282.8 302.3 283.5 300"/>
</g>
<g class="case" id="g16_case_bottom">
<ellipse cx="199" cy="340.8" rx="2.5" ry="3.2" transform="rotate(15 199 340.8)"/>
<path d="M205.3 345.3C205.7 344.3 208 341 208 339C208 337.1 206.9 335 205.3 333.6C203.6 332.3 200.5 330.9 198.1 330.9C195.6 330.9 192.5 332.3 190.8 333.6C189.2 335 188.6 338.1 188.1 339"/>
<path d="M190.8 349.9C191.4 350.5 193.2 353.2 194.4 353.5C195.6 353.8 196.7 352.6 198.1 351.7C199.4 350.8 201.8 348.7 202.6 348.1"/>
<ellipse cx="227.3" cy="345.3" rx="3.2" ry="3.6" transform="rotate(15 227.3 345.3)"/>
<path d="M218.8 351.7C218.5 350.5 216.7 346.8 217 344.4C217.3 342 218.8 338.8 220.6 337.2C222.4 335.7 225.6 334.9 227.8 335.1C230.1 335.2 232.8 336.4 234.2 338.1C235.5 339.8 235.7 344.1 236 345.3"/>
<path d="M218.8 353.5C219.6 353.9 221.8 355.9 223.3 356.2C224.8 356.5 227.1 355.4 227.8 355.3"/>
<ellipse cx="249.5" cy="355.3" rx="9.9" ry="12.6" transform="rotate(15 249.5 355.3)"/>
<path d="M243.2 358.9C243.5 357.4 243.6 351.8 245 349.9C246.3 347.9 249.3 346.8 251.3 347.1C253.3 347.4 256 349.4 256.7 351.7C257.5 353.9 256 359.2 255.8 360.7"/>
<path d="M239.6 364.3C240.5 364.9 242.9 367.3 245 367.9C247.1 368.5 251 367.9 252.2 367.9"/>
<path d="M190.8 349.9C191.1 350.8 191.4 353.5 192.6 355.3C193.8 357.1 196.8 358.3 198.1 360.7C199.3 363.1 199 367 199.9 369.7C200.8 372.4 201.4 375.4 203.5 376.9C205.6 378.4 210.1 377.8 212.5 378.7C214.9 379.6 216.4 380.5 217.9 382.3C219.4 384.2 220 386.9 221.5 389.6C223 392.3 224.8 396.3 226.9 398.6C229 400.8 231.4 403 234.2 403.1C236.9 403.3 240.2 400.2 243.2 399.5C246.2 398.7 249.2 398.9 252.2 398.6C255.2 398.3 259.7 397.8 261.2 397.7"/>
<path d="M261.2 397.7 L281.1 396.8"/>
<path d="M281.1 396.8C282.3 396.3 285.9 395 288.3 394.1C290.7 393.2 292.5 391.5 295.5 391.4C298.5 391.2 303.6 393.5 306.4 393.2C309.1 392.9 309.7 391.1 311.8 389.6C313.9 388.1 316.9 385.4 319 384.2C321.1 382.9 322.3 382 324.4 382.3C326.5 382.6 329.2 385.7 331.6 386C334 386.3 336.4 385.1 338.8 384.2C341.3 383.2 343.7 381.3 346.1 380.5C348.5 379.8 349.4 380.2 353.3 379.6C357.2 379 365.1 377.8 369.5 376.9C374 376 378.3 374.7 380 374.2"/>
<path style="stroke-width:2" d="M251.3 398.8 L259.4 398.1"/>
<path d="M180 384.2C181.5 384.5 186 384.8 189 386C192 387.2 195.9 389 198.1 391.4C200.2 393.8 199.9 398.6 201.7 400.4C203.5 402.2 206.5 401.6 208.9 402.2C211.3 402.8 214 402.8 216.1 404C218.2 405.2 220.3 406.7 221.5 409.4C222.7 412.1 222.1 417.8 223.3 420.3C224.5 422.7 226.6 423.7 228.7 423.9C230.8 424 233.9 422.7 236 421.2C238.1 419.7 238.7 416.6 241.4 414.8C244.1 413 248 411.2 252.2 410.3C256.4 409.4 261.8 409.9 266.6 409.4C271.5 409 277.5 407.3 281.1 407.6C284.7 407.9 285.9 410.6 288.3 411.2C290.7 411.8 293.1 412.1 295.5 411.2C297.9 410.3 300 406.7 302.7 405.8C305.5 404.9 308.8 405.5 311.8 405.8C314.8 406.1 318.1 408.2 320.8 407.6C323.5 407 325.9 404 328 402.2C330.1 400.4 331 397.5 333.4 396.8C335.8 396 339.4 397.7 342.5 397.7C345.5 397.7 349.1 397.8 351.5 396.8C353.9 395.7 354.5 393 356.9 391.4C359.3 389.7 362.1 388.1 365.9 386.9C369.8 385.7 377.7 384.6 380 384.2"/>
<ellipse cx="208.9" cy="392.3" rx="5.4" ry="7.2" transform="rotate(20 208.9 392.3)"/>
<path d="M205.3 396.8C205.1 395.9 204.1 393 204.4 391.4C204.7 389.7 205.9 387.8 207.1 386.9C208.3 386 210.8 386.1 211.6 386"/>
<ellipse cx="191.2" cy="371.5" rx="2.5" ry="3.6" transform="rotate(20 191.2 371.5)"/>
<ellipse cx="230.5" cy="416.3" rx="2.9" ry="4" transform="rotate(20 230.5 416.3)"/>
<ellipse cx="291" cy="402.2" rx="2.7" ry="3.6" transform="rotate(20 291 402.2)"/>
<ellipse cx="347.9" cy="388.7" rx="2.9" ry="4" transform="rotate(20 347.9 388.7)"/>
<path d="M313.6 398.6C313.4 397.4 312.4 393.8 312.7 391.4C313 389 314 385.7 315.4 384.2C316.7 382.6 319.1 382 320.8 382.3C322.4 382.6 324.6 385.4 325.3 386"/>
<path d="M314.5 400.4C315.2 400.7 317.5 402.4 319 402.2C320.5 402.1 322.4 401 323.5 399.5C324.6 398 325 394.2 325.3 393.2"/>
<ellipse cx="319.4" cy="392.3" rx="4" ry="6.3" transform="rotate(15 319.4 392.3)"/>
<path d="M180 404 L199.9 401.3"/>
<path d="M180 405.8 L225.1 422.1"/>
<path d="M180 420.3 L198.1 413"/>
<path d="M180 393.2 L196.2 398.6"/>
<path d="M232.3 330C233.5 330.9 236.3 334.1 239.6 335.4C242.9 336.8 248.3 338.4 252.2 338.1C256.1 337.8 260.6 335 263 333.6C265.4 332.3 266 330.6 266.6 330"/>
<path d="M266.6 335.4C267.8 336.9 270.3 341.7 273.9 344.4C277.5 347.1 284.7 350.2 288.3 351.7C291.9 353.2 294.3 353.2 295.5 353.5"/>
<path d="M270.3 340.8 L288.3 348.1"/>
<path d="M262.7 386.9 L276.6 365.2 L280.2 366.1 L267 390.5Z"/>
<path d="M264.8 387.8 L278.4 366.1"/>
<path d="M284.7 363.4 L310 372.4 L310.9 382.3 L285.6 373.3Z"/>
<path d="M286.9 366.1 L307.8 373.7 L308.5 379.6 L287.6 371.9Z"/>
<path d="M282.9 361.6 L284.7 370.6"/>
<path d="M288.3 349.9 L295.5 354.4 L299.1 357.1"/>
<path d="M317.2 357.1 L338.8 364.3"/>
<path d="M313.6 349.9 L342.5 355.3"/>
<ellipse cx="341.6" cy="359.8" rx="4" ry="5.4" transform="rotate(10 341.6 359.8)"/>
<path d="M284.7 357.1 L284.7 362.5"/>
<path d="M306.4 358.9 L308.2 366.1"/>
<path d="M313.6 357.1 L315.4 366.1"/>
<path d="M324.4 330C324.7 331.5 325.3 336 326.2 339C327.1 342 328 345.3 329.8 348.1C331.6 350.8 335.8 354.1 337 355.3"/>
<path d="M306.4 353.5C308.8 352.9 316.9 351.1 320.8 349.9C324.7 348.7 328.3 346.8 329.8 346.2"/>
<path d="M342.5 330C343.1 331.5 344.3 336.3 346.1 339C347.9 341.7 352.1 345 353.3 346.2"/>
<path d="M360.5 330C359.9 331.2 357.9 334.5 356.9 337.2C355.8 339.9 354.6 344.7 354.2 346.2"/>
<path d="M337 337.2 L342.5 348.1"/>
<path d="M311.8 374.2 L333.4 382.3"/>
<path d="M277.5 380.5 L284.7 391.4"/>
<path d="M270.3 391.4 L281.1 396.8"/>
<path d="M284.7 384.2C286.5 385.1 291.9 388.4 295.5 389.6C299.1 390.8 304.5 391.1 306.4 391.4"/>
</g>
<g class="case" id="g17_case_topright">
<path d="M329 119 L329 141.5"/>
<path d="M348 119 L348 144.2"/>
<path d="M320 137.9 L328.1 127.1"/>
<path d="M323.6 138.8 L329.9 129.8"/>
<ellipse cx="423.8" cy="133.4" rx="9.4" ry="5.1"/>
<ellipse cx="423.8" cy="133.8" rx="4.5" ry="2.2"/>
<ellipse cx="423.8" cy="133.8" rx="2.2" ry="0.9"/>
<path d="M414.4 134.3 L414.8 145.1"/>
<path d="M433.4 134.3 L433.4 144.2"/>
<path d="M409.4 152.3 L416.6 143.3"/>
<path d="M412.1 153.2 L418.4 146"/>
<path d="M320 146.9C320.6 146.3 322.1 144.1 323.6 143.3C325.1 142.6 326.9 142.3 329 142.4C331.1 142.6 333.8 143.6 336.2 144.2C338.7 144.8 341.5 146 343.5 146C345.4 146 347.2 144.5 348 144.2"/>
<path d="M348.9 143.3 L368.7 144.2"/>
<path d="M368.7 144.2C369.2 143.3 370.2 140 371.4 138.8C372.6 137.6 374.6 136.7 376 137C377.3 137.3 378.4 139.9 379.6 140.6C380.8 141.4 381.4 141.1 383.2 141.5C385 142 388.6 142.1 390.4 143.3C392.2 144.5 392.8 147.1 394 148.7C395.2 150.4 396.1 152.3 397.6 153.2C399.1 154.2 402.1 154 403 154.2"/>
<path d="M379.6 140.6C380.8 139.9 384.7 137 386.8 136.1C388.9 135.2 390.4 135.3 392.2 135.2C394 135 396.7 135.2 397.6 135.2"/>
<path d="M397.6 135.2 L413.9 142.4"/>
<path d="M392.2 136.1 L408.4 143.3 L410.3 152.3"/>
<path d="M424.7 150.5C425 149.9 425.3 147.7 426.5 146.9C427.7 146.2 430.4 145.6 431.9 146C433.4 146.5 434 149.3 435.5 149.6C437 149.9 439.1 147.8 440.9 147.8C442.7 147.8 444.8 148.3 446.4 149.6C447.9 151 448.8 154.5 450 156C451.2 157.5 452.1 159 453.6 158.7C455.1 158.4 456.9 155.1 459 154.2C461.1 153.2 464 152.6 466.2 153.2C468.5 153.9 471 155.8 472.5 157.8C474 159.7 474.6 163 475.2 165C475.8 166.9 476 168.7 476.1 169.5"/>
<path d="M477 172.2C477.9 172.8 481.9 174.3 482.5 175.8C483.1 177.3 480 179.7 480.6 181.2C481.3 182.7 484.6 183.6 486.1 184.8C487.6 186 489.2 186.6 489.7 188.4C490.1 190.3 489.2 193.7 488.8 195.7C488.3 197.6 487.3 199.3 487 200"/>
<path d="M320 163.2C321.8 162.3 327.2 159 330.8 157.8C334.4 156.6 337.4 156.1 341.7 156C345.9 155.8 351.3 156.6 356.1 156.9C360.9 157.2 364.5 157 370.5 157.8C376.6 158.5 385.6 160.3 392.2 161.4C398.8 162.4 404.2 163 410.3 164.1C416.3 165.1 422.3 166.3 428.3 167.7C434.3 169 440.9 170.2 446.4 172.2C451.8 174.2 456.9 176.7 460.8 179.4C464.7 182.1 467.4 185 469.8 188.4C472.2 191.9 474.3 198.1 475.2 200"/>
<path d="M338.1 146.9C341.1 147.1 350.1 147.4 356.1 147.8C362.1 148.3 368.1 148.6 374.2 149.6C380.2 150.7 387.4 153.2 392.2 154.2C397 155.1 398.2 154.6 403 155.1C407.8 155.5 416.9 156.4 421.1 156.9C425.3 157.3 427.1 157.6 428.3 157.8"/>
<ellipse cx="327.2" cy="153.2" rx="2.7" ry="4" transform="rotate(20 327.2 153.2)"/>
<ellipse cx="387.7" cy="148.7" rx="2.7" ry="4" transform="rotate(20 387.7 148.7)"/>
<ellipse cx="441.8" cy="156.9" rx="2.7" ry="4" transform="rotate(20 441.8 156.9)"/>
<ellipse cx="466.2" cy="166.8" rx="5.1" ry="6.9" transform="rotate(20 466.2 166.8)"/>
<ellipse cx="484.3" cy="191.2" rx="2.5" ry="3.6" transform="rotate(20 484.3 191.2)"/>
<ellipse cx="400.3" cy="148.4" rx="4" ry="2.5" transform="rotate(10 400.3 148.4)"/>
<ellipse cx="400.3" cy="148.4" rx="1.8" ry="1.1" transform="rotate(10 400.3 148.4)"/>
<ellipse cx="352.1" cy="171.8" rx="5.4" ry="7.2" transform="rotate(15 352.1 171.8)"/>
<ellipse cx="352.1" cy="172.2" rx="2.2" ry="2.9" transform="rotate(15 352.1 172.2)"/>
<path d="M320 165 L347.1 168.6"/>
<path d="M320 177.6 L345.3 172.2"/>
<path d="M332.6 200 L348.9 179.4"/>
<path d="M338.1 200 L352.5 180.3"/>
<path d="M356.1 179.4 L357 200"/>
<path d="M365.1 172.2 L366 200"/>
<path d="M358.8 157.8 L372.3 161.4 L373.2 174"/>
<path d="M375.1 160.5 L374.2 174"/>
<path d="M361.5 170.4 L372.3 174"/>
<path d="M374.2 174C376.6 174.3 384.1 174.9 388.6 175.8C393.1 176.7 397 177.9 401.2 179.4C405.4 180.9 410 182.7 413.9 184.8C417.8 186.9 421.7 189.5 424.7 192.1C427.7 194.6 430.7 198.7 431.9 200"/>
<path d="M368.7 195.7C370.5 194.8 376.6 192.4 379.6 190.3C382.6 188.1 384.1 184.8 386.8 183C389.5 181.2 391.9 179.6 395.8 179.4C399.7 179.3 406 180.6 410.3 182.1C414.5 183.6 418.1 186.2 421.1 188.4C424.1 190.7 426.6 193.7 428.3 195.7C430 197.6 430.6 199.3 431 200"/>
<path d="M365.1 200 L377.8 195.7"/>
<path d="M428.3 167.7C430.1 169 435.8 172.7 439.1 175.8C442.4 179 445.8 182.6 448.2 186.6C450.6 190.7 452.7 197.8 453.6 200"/>
<path d="M377.8 159.6C381.7 160.8 394 164.1 401.2 166.8C408.4 169.5 415.4 172.5 421.1 175.8C426.8 179.1 431.9 182.6 435.5 186.6C439.1 190.7 441.5 197.8 442.7 200"/>
</g>
<g class="case" id="g18_case_right">
<path d="M343.6 209.9C344.8 210.5 349 210.8 350.8 213.5C352.6 216.2 354 221.6 354.4 226.1C354.9 230.6 353.7 238.1 353.5 240.5"/>
<path d="M349 209C350.2 209.6 354.3 209.7 356.2 212.6C358.2 215.4 360.3 221.1 360.8 226.1C361.2 231.1 359.3 239.6 359 242.3"/>
<path d="M356.2 208.1C357.4 209 361.7 210.5 363.5 213.5C365.3 216.5 366.8 221 367.1 226.1C367.4 231.2 365.6 241.1 365.3 244.2"/>
<path d="M359.9 207.1C361.4 208.2 366.9 210 368.9 213.5C370.8 216.9 371.4 222.8 371.6 227.9C371.7 233 370.1 241.4 369.8 244.2"/>
<path d="M350.8 190 L352.6 200.8 L363.5 202.6 L365.3 190"/>
<path d="M368.9 195.4 L383.3 190"/>
<path d="M428.4 195.4C430 197.5 435.1 202.9 437.5 208.1C439.9 213.2 441.8 220.7 442.9 226.1C443.9 231.5 443.6 238.1 443.8 240.5"/>
<path d="M433.9 195.4C435.1 197.8 439.3 204.7 441.1 209.9C442.9 215 444.1 223.4 444.7 226.1"/>
<path d="M453.7 190C454.6 192.4 457.9 199.6 459.1 204.4C460.3 209.3 461.2 214.7 460.9 218.9C460.6 223.1 458.8 227.2 457.3 229.7C455.8 232.3 452.8 233.5 451.9 234.2"/>
<path d="M473.6 190C474.8 193 479 202 480.8 208.1C482.6 214.1 484 218.6 484.4 226.1C484.9 233.6 484.4 245.7 483.5 253.2C482.6 260.7 480.6 265.1 479 271.2C477.3 277.4 474.5 286.9 473.6 290"/>
<path d="M486.2 197.2C487.1 200.5 490.6 209.3 491.6 217.1C492.7 224.9 492.2 238.1 492.5 244.2C492.8 250.2 492.7 250.8 493.4 253.2C494.2 255.6 496.6 256.8 497 258.6C497.5 260.4 497 261.9 496.1 264C495.2 266.1 493.3 266.9 491.6 271.2C490 275.6 487.1 286.9 486.2 290"/>
<ellipse cx="450.5" cy="231.2" rx="3.6" ry="3.6"/>
<ellipse cx="489.8" cy="261.8" rx="1.4" ry="1.8"/>
<path d="M377.9 247.8C378.8 247.6 381.2 246.6 383.3 246.9C385.4 247.2 386.9 249.3 390.5 249.6C394.2 249.9 400.8 248.2 405 248.7C409.2 249.1 414 251.7 415.8 252.3"/>
<path d="M383.3 244.2C384.5 244.6 386.6 246.6 390.5 246.9C394.5 247.2 402.3 245.5 406.8 246C411.3 246.4 415.8 249 417.6 249.6"/>
<path d="M423 254.1C425.4 253.9 434.2 254.2 437.5 253.2C440.8 252.1 442 248.7 442.9 247.8"/>
<path d="M444.7 247.8C444.4 250.2 444.1 258 442.9 262.2C441.7 266.4 439.9 270.3 437.5 273C435.1 275.7 430 277.5 428.4 278.4"/>
<path d="M440.2 254.1C439.9 256 439.4 262.4 438.4 265.8C437.3 269.3 434.6 273.3 433.9 274.8"/>
<path style="stroke-width:2" d="M390.5 274.8 L399.6 272.1"/>
<path d="M367.1 282.1 L385.1 290"/>
<path d="M386.9 285.7 L403.2 276.6 L421.2 283.9 L408.6 290"/>
</g>
<g class="case" id="g19_case_right2">
<path d="M477.2 280C476.6 282.4 475.4 289.3 473.6 294.4C471.8 299.6 469.1 305.6 466.4 310.7C463.6 315.8 460.6 320.3 457.3 325.1C454 329.9 450.4 335.1 446.5 339.6C442.6 344.1 438.7 348.3 433.9 352.2C429 356.1 423 360 417.6 363C412.2 366 408.3 368 401.4 370.3C394.5 372.5 383.3 374.9 376.1 376.6C368.9 378.2 361.1 379.4 358.1 380"/>
<path d="M488 280C487.4 281.2 484.3 284.2 484.4 287.2C484.6 290.2 488.3 294.7 488.9 298.1C489.5 301.4 489.1 304.1 488 307.1C487 310.1 485 314.1 482.6 316.1C480.2 318.1 476.3 317.6 473.6 318.8C470.9 320 467.9 321.4 466.4 323.3C464.8 325.3 464.5 328.1 464.5 330.5C464.5 332.9 466.7 335.4 466.4 337.8C466.1 340.2 464.5 343.5 462.7 345C460.9 346.5 457.9 345.9 455.5 346.8C453.1 347.7 451.3 348.3 448.3 350.4C445.3 352.5 441.4 356.4 437.5 359.4C433.6 362.4 428.7 366 424.8 368.4C420.9 370.9 416.7 371.9 414 373.9C411.3 375.8 409.5 379 408.6 380"/>
<ellipse cx="479" cy="307.1" rx="4.5" ry="6.3" transform="rotate(20 479 307.1)"/>
<ellipse cx="479.4" cy="307.4" rx="2.5" ry="4" transform="rotate(20 479.4 307.4)"/>
<ellipse cx="458.2" cy="338.1" rx="2.7" ry="4" transform="rotate(20 458.2 338.1)"/>
<ellipse cx="401.4" cy="378.4" rx="2.2" ry="3.6" transform="rotate(20 401.4 378.4)"/>
<path d="M341.8 295.3 L344.5 296.2 L356.2 346.8 L349 347.7 L340 332.3"/>
<path d="M342.7 298.1 L353.5 346.8"/>
<path d="M352.6 323.3C355 322.1 362.6 319.4 367.1 316.1C371.6 312.8 377.6 305.6 379.7 303.5"/>
<path d="M354.4 336C357.1 334.5 365.9 330.2 370.7 326.9C375.5 323.6 380 319.1 383.3 316.1C386.6 313.1 389.3 310.1 390.5 308.9"/>
<path d="M367.1 281.8C368.6 283.9 373.1 290.8 376.1 294.4C379.1 298.1 380.9 300.5 385.1 303.5C389.3 306.5 398.7 311 401.4 312.5"/>
<path d="M368.9 280C371.3 282.1 379.1 288.1 383.3 292.6C387.5 297.1 391 303.8 394.2 307.1C397.3 310.4 400.9 311.6 402.3 312.5"/>
<path d="M401.4 312.5C403.2 311.9 408.9 310.7 412.2 308.9C415.5 307.1 418.5 304.4 421.2 301.7C423.9 299 427.1 295.3 428.4 292.6C429.8 289.9 429.7 287.5 429.4 285.4C429 283.3 427.1 280.9 426.6 280"/>
<path d="M386.9 287.2C388.1 286.6 390.5 283.3 394.2 283.6C397.8 283.9 405.3 286.9 408.6 289C411.9 291.1 413 293.8 414 296.2C415.1 298.7 414.8 302.3 414.9 303.5"/>
<path d="M386.9 287.2C387.2 288.1 387.5 291.4 388.7 292.6C389.9 293.8 392.9 292.6 394.2 294.4C395.4 296.2 394.8 300.9 396 303.5C397.2 306 400.5 308.7 401.4 309.8"/>
<path d="M408.6 289 L424.8 283.6"/>
<path d="M414.9 303.5 L426.6 294.4"/>
<path d="M340 283.6 L347.2 284.5 L358.1 280"/>
<ellipse cx="340" cy="359.4" rx="6.3" ry="6.3"/>
</g>
<g class="part" id="g20_part6">
<path d="M459.4 320C458.2 321.8 455.2 326.6 452.2 330.8C449.2 335 445.9 340.8 441.4 345.3C436.9 349.8 430.8 354.3 425.1 357.9C419.4 361.5 413.1 364.5 407.1 366.9C401.1 369.3 393.5 371.1 389 372.3C384.5 373.5 381.5 373.9 380 374.2"/>
<path d="M473.9 320C472.7 320.6 468.1 321.8 466.6 323.6C465.1 325.4 465 328.4 464.8 330.8C464.7 333.2 466.3 335.6 465.7 338.1C465.1 340.5 463.5 343.8 461.2 345.3C459 346.8 454.9 345.9 452.2 347.1C449.5 348.3 448 350.4 445 352.5C442 354.6 438.1 357.2 434.2 359.7C430.2 362.3 425.1 365.4 421.5 367.8C417.9 370.2 414.6 371.9 412.5 374.2C410.4 376.4 410.4 379.1 408.9 381.4C407.4 383.6 405.3 386.5 403.5 387.7C401.7 388.9 399.9 389 398.1 388.6C396.2 388.1 394.4 385.9 392.6 385C390.8 384.1 389.3 383.3 387.2 383.2C385.1 383 381.2 383.9 380 384.1"/>
<ellipse cx="458" cy="338.1" rx="2.9" ry="4" transform="rotate(20 458 338.1)"/>
<ellipse cx="401.3" cy="379.2" rx="2.9" ry="4" transform="rotate(20 401.3 379.2)"/>
<path d="M496.4 336.2 L499.1 334.4 L555.1 357 L556 359.7 L553.3 361.5 L497.3 339Z"/>
<path style="stroke-width:1.6" d="M499.1 335.2 L554.7 357.5"/>
<path d="M499.1 339.9 L472.1 420"/>
<path d="M522.6 348.9 L497.3 420"/>
<path d="M526.2 350.7 L501.8 420"/>
<path d="M502.7 342.6 L522.6 348.9"/>
<path d="M473.9 410 L471.2 419.9 L473.9 425.3"/>
<path d="M472.1 419 L495.5 429"/>
<path d="M500 410 L495.5 428.1"/>
<path d="M504.5 410 L499.1 427.1 L504.5 428.1 L505.5 432.6"/>
<path d="M473.9 425.3C471.5 427.3 462.4 434.4 459.4 437.1C456.4 439.8 457.2 439.6 455.8 441.6C454.5 443.5 452.2 446.4 451.3 448.8C450.4 451.2 449.9 454.2 450.4 456C450.8 457.8 452.5 458.9 454 459.6C455.5 460.4 457.3 460.7 459.4 460.5C461.5 460.4 465.4 459 466.6 458.7"/>
<path d="M466.6 458.7C469 459.6 477.6 463.2 481.1 464.2C484.5 465.1 485.7 465.1 487.4 464.2C489.1 463.2 490.3 460.7 491 458.7C491.8 456.8 492.2 454.5 491.9 452.4C491.6 450.3 490.1 448.7 489.2 446.1C488.3 443.5 487.4 439.5 486.5 437.1C485.6 434.7 484.2 432.6 483.8 431.7"/>
<path d="M473.9 425.3 L484.7 429.9 L502.7 437.1 L506.4 434.4 L504.5 428.1"/>
<path d="M459.4 437.1C460.3 437.8 463 441 464.8 441.6C466.6 442.2 467.2 442.3 470.3 440.7C473.3 439 480.8 433.2 482.9 431.7"/>
<path d="M457.6 443.4C458.8 443.5 462.4 444.4 464.8 444.3C467.2 444.1 469.4 444 472.1 442.5C474.8 441 479.6 436.5 481.1 435.3"/>
<ellipse cx="458.5" cy="453.9" rx="2.5" ry="3.2" transform="rotate(15 458.5 453.9)"/>
<ellipse cx="458.9" cy="454.2" rx="1.3" ry="1.6" transform="rotate(15 458.9 454.2)"/>
<ellipse cx="485.1" cy="457.8" rx="2.5" ry="3.2" transform="rotate(15 485.1 457.8)"/>
<path d="M466.6 447.9C467.8 447 471.5 443.2 473.9 442.5C476.3 441.7 479.9 443.2 481.1 443.4"/>
<path d="M466.6 448.8 L473.9 452.4 L480.2 453.3"/>
<ellipse cx="480.2" cy="448.3" rx="2.2" ry="4.7" transform="rotate(-10 480.2 448.3)"/>
<path d="M488.3 437.1 L493.7 451.5 L500.9 455.1 L504.5 453.3 L502.7 437.1"/>
<path d="M504.5 453.3C505.5 454.8 507.9 460.2 510 462.3C512.1 464.5 513.6 464.3 517.2 466C520.8 467.6 529.2 471.2 531.6 472.3"/>
<path d="M531.6 472.3 L533.4 468.7"/>
<path d="M533.4 468.7C531.6 467.8 525.3 466.1 522.6 463.2C519.9 460.4 519 455.6 517.2 451.5C515.4 447.5 513.6 441.7 511.8 438.9C510 436 507.3 435.1 506.4 434.4"/>
<path d="M506.4 442.5C507.6 444.9 511.2 453.3 513.6 456.9C516 460.5 519.6 462.9 520.8 464.2"/>
</g>
<g class="part" id="g21_part8">
<path d="M590.2 340.1C589.6 339.8 587.9 339 586.4 338.8C585 338.6 582.8 338.4 581.4 338.8C579.9 339.2 578.4 340.3 577.6 341.3C576.7 342.4 576.4 343.4 576.3 345.1C576.2 346.8 576.4 349.5 576.9 351.4C577.5 353.3 579 354.6 579.5 356.5C580 358.4 579.6 360.9 580.1 362.8C580.6 364.7 581.4 366.5 582.6 367.9C583.9 369.2 586 370.4 587.7 371C589.4 371.6 591.9 371.5 592.7 371.6"/>
<path d="M585.2 340.7C584.6 340.9 582.7 341.2 582 341.9C581.3 342.7 580.8 343.3 580.7 345.1C580.6 346.9 580.8 350.4 581.4 352.7C581.9 355 583.6 357.1 583.9 359C584.2 360.9 582.8 362.5 583.3 364.1C583.7 365.6 585.9 367.7 586.4 368.5"/>
<ellipse cx="586.2" cy="347.6" rx="2.3" ry="2.8" transform="rotate(15 586.2 347.6)"/>
<ellipse cx="586.4" cy="347.9" rx="1" ry="1.5" transform="rotate(15 586.4 347.9)"/>
<path d="M597.8 342.6 L607.9 346.4"/>
<path d="M607.9 346.4C608.3 346.1 609.5 344.6 610.4 344.5C611.4 344.4 612.5 345 613.6 345.7C614.6 346.5 616.2 348.4 616.8 348.9"/>
<path d="M616.8 348.9 L630.7 355.2 L647.1 362.8"/>
<ellipse cx="611.1" cy="354.6" rx="2.3" ry="3.5" transform="rotate(15 611.1 354.6)"/>
<ellipse cx="611.1" cy="354.6" rx="1" ry="2" transform="rotate(15 611.1 354.6)"/>
<path d="M630.7 355.2 L631.9 357.7 L611.7 366"/>
<path d="M626.9 363.4C627.3 362.9 626.2 361.4 629.4 362.2C632.5 362.9 643.2 366.6 645.8 367.9C648.4 369.1 645.8 369.3 645.2 369.7C644.6 370.2 645.1 371.2 642 370.4C639 369.6 629.4 366.2 626.9 365.1C624.3 363.9 626.4 363.9 626.9 363.4Z"/>
<ellipse cx="654" cy="356.5" rx="6.3" ry="3.2"/>
<ellipse cx="654" cy="356.7" rx="2.8" ry="1.3"/>
<path d="M647.7 357.1 L647.7 372.9"/>
<path d="M660.3 357.1 L660.3 371.6"/>
<path d="M647.7 372.9C648.7 373.2 651.3 374.9 653.4 374.8C655.5 374.7 659.2 372.7 660.3 372.3"/>
<path d="M661 369.1C661.6 369.5 664 370.6 664.8 371.6C665.5 372.7 665.8 374.2 665.4 375.4C665 376.7 663.6 378.4 662.2 379.2C660.9 380.1 659.1 380.5 657.2 380.5C655.3 380.5 651.9 379.4 650.9 379.2"/>
<path d="M647.1 374.2C647.7 374.6 649.2 376.1 650.9 376.7C652.6 377.3 655.3 378.2 657.2 378C659.1 377.8 661.4 375.9 662.2 375.4"/>
<path style="stroke-width:1.5" d="M592.7 361.5 L611.7 368.5 L610.4 371.6 L591.5 364.7Z"/>
<path style="stroke-width:1.5" d="M590.2 366.6 L615.5 376.1 L614.2 378.6 L589 369.7Z"/>
<path style="stroke-width:1.5" d="M616.8 375.4 L639.5 383.6 L638.9 386.2 L616.1 378Z"/>
<path style="stroke-width:1.5" d="M638.9 386.8 L661 395 L659.7 399.4 L655.9 400.1 L638.2 390.6Z"/>
<path d="M613 370.4C614.2 370.3 618.2 369.5 620.5 369.7C622.9 370 623.7 370.5 626.9 371.6C630 372.8 637.4 375.9 639.5 376.7"/>
<path d="M613 372.3C614.6 372.3 618.9 371.2 623.1 372.3C627.3 373.3 635.7 377.5 638.2 378.6"/>
<path d="M639.5 376.7 L661 385.5 L660.3 388.1"/>
<path d="M639.5 381.8 L659.7 390"/>
<path d="M623.1 381.8 L638.2 387.4"/>
<path d="M621.8 384.9 L638.2 390.6"/>
<path d="M639.5 375.4 L638.9 388.1"/>
<path d="M599.1 378.6C599.6 378.2 600.6 377.9 601.6 378C602.5 378.1 604.3 378.5 604.7 379.2C605.2 380 604.9 381.9 604.1 382.4C603.4 382.9 601.3 382.7 600.3 382.4C599.4 382.1 598.6 381.1 598.4 380.5C598.2 379.9 598.5 379 599.1 378.6Z"/>
<path d="M666 376.1 L687.5 376.1"/>
</g>
<g class="part" id="g22_part9">
<path d="M642 236.3C642.3 235.7 642.9 233.7 644.2 232.7C645.4 231.7 647.5 230.7 649.2 230.5C650.9 230.4 652.9 230.9 654.3 232C655.6 233.1 656.8 235.1 657.1 237C657.5 239 657 241.6 656.4 243.5C655.8 245.5 654.5 247.4 653.5 248.6C652.6 249.8 651.1 250.4 650.6 250.8"/>
<ellipse cx="652.1" cy="239.5" rx="2.6" ry="3.6" transform="rotate(15 652.1 239.5)"/>
<ellipse cx="652.4" cy="239.8" rx="1.2" ry="1.9" transform="rotate(15 652.4 239.8)"/>
<path d="M642 236.3 L639.1 239.2 L623.2 247.1 L618.2 247.9"/>
<path d="M618.2 247.9C617.3 248.1 614.4 248.4 613.1 249.3C611.8 250.3 610.8 251.9 610.2 253.6C609.6 255.4 609.6 258.9 609.5 260"/>
<path d="M643.4 240.6 L624.7 249.3 L620.3 250.8"/>
<path d="M647.5 206 L647.5 230.5"/>
<path d="M609.5 257.3C609.6 256.5 609.5 253.7 610.2 252.3C610.9 250.8 612.4 249.5 613.8 248.7C615.3 247.8 618 247.5 618.9 247.2"/>
<path d="M609.5 257.3C610.1 258.3 611.5 261.5 613.1 263.1C614.7 264.7 617.9 266.1 618.9 266.7"/>
<ellipse cx="618.9" cy="256.6" rx="2.2" ry="3.2" transform="rotate(15 618.9 256.6)"/>
<path d="M613.8 257.3C613.9 256.6 613.8 254.1 614.5 253C615.3 251.9 616.7 251 618.2 250.8C619.6 250.7 622.4 252 623.2 252.3"/>
<path d="M623.2 252.3 L647.8 242.9"/>
<path d="M627.5 260.2 L650.6 250.8 L652.1 244.3"/>
<path d="M650.6 252.3C652.1 252.9 656.9 255.6 659.3 255.9C661.7 256.1 663.2 254.1 665.1 253.7C667 253.4 669.2 253.5 670.9 253.7C672.6 254 674.2 254.2 675.2 255.2C676.2 256.1 676.2 257.9 676.6 259.5C677.1 261.1 677.4 263.1 678.1 264.5C678.8 266 680.6 267 681 268.2C681.3 269.4 681 270.8 680.3 271.8C679.5 272.7 678.7 273.5 676.6 273.9C674.6 274.4 671.6 274.8 668 274.7C664.4 274.5 658.8 273.8 655 273.2C651.1 272.6 648.5 272 644.9 271C641.3 270.1 636.7 268.8 633.3 267.4C630 266.1 627.1 264.8 624.7 263.1C622.3 261.4 619.8 258.3 618.9 257.3"/>
<path d="M618.9 266.7C620.1 267.3 623 269.4 626.1 270.3C629.2 271.3 633.6 272 637.7 272.5C641.7 273 646.1 272.6 650.6 273.2C655.2 273.8 660.8 275.6 665.1 276.1C669.4 276.6 674 276.7 676.6 276.1C679.3 275.5 680.3 273.1 681 272.5"/>
<path d="M637.7 262.4C638.1 261.4 641.3 259.3 643.4 258.8C645.6 258.3 649 259 650.6 259.5C652.3 260 653.8 260.9 653.5 261.7C653.3 262.4 651.4 263.3 649.2 263.8C647 264.3 642.5 264.8 640.5 264.5C638.6 264.3 637.2 263.3 637.7 262.4Z"/>
<path d="M662.2 258.8C662.4 258.3 663.6 257.5 665.1 257.3C666.5 257.1 669.5 257.4 670.9 257.6C672.2 257.9 673.2 258.3 673 258.8C672.9 259.2 671.7 260 670.1 260.2C668.6 260.5 665 260.5 663.6 260.2C662.3 260 662 259.3 662.2 258.8Z"/>
<ellipse cx="670.1" cy="266" rx="5.1" ry="3.2" transform="rotate(10 670.1 266)"/>
<ellipse cx="670.1" cy="266" rx="2.6" ry="1.7" transform="rotate(10 670.1 266)"/>
<path d="M681 268.2C682.2 268 686 267.1 688.2 267.4C690.4 267.8 692.2 269.2 694 270.3C695.8 271.4 698.2 273.3 699 273.9"/>
<path d="M699 273.9C699 274.7 699.9 277.3 699 278.3C698.2 279.2 695.8 279.6 694 279.7C692.2 279.8 689.4 279.6 688.2 279C687 278.4 687.7 276.7 686.8 276.1C685.8 275.5 683.1 275.5 682.4 275.4"/>
<path d="M682.4 275.4 L681 279"/>
<path d="M688.2 275.4 L699 274.7"/>
<path d="M655.7 277.5C655.3 278.5 654 281.4 653.5 283.3C653.1 285.2 652.6 287.4 652.8 289.1C653.1 290.8 653.7 292.6 655 293.4C656.3 294.3 659.1 294.6 660.8 294.2C662.4 293.7 664.1 291.6 665.1 290.5C666.1 289.5 666.3 288.1 666.5 287.7"/>
<path d="M660.8 282.6C660.5 283.2 659.1 285.4 659.3 286.2C659.6 287.1 660.8 287.7 662.2 287.7C663.6 287.7 666.3 286.9 668 286.2C669.7 285.5 671.6 283.8 672.3 283.3"/>
<path d="M665.1 276.1 L672.3 278.3 L676.6 280.4"/>
<path d="M673.8 276.1 L676.6 281.9"/>
<path style="stroke-width:0.9" d="M619.6 258.1 L696.1 289.8"/>
<path d="M709.6 300.6 L709.6 320"/>
<path d="M627.5 307.1 L627.5 320"/>
</g>
<g class="part" id="g23_part4">
<path d="M677.9 123.2C678.3 122.3 679.2 119.6 680.4 118.1C681.7 116.7 683.2 115.6 685.5 114.3C687.8 113.1 691.2 111.7 694.3 110.5C697.5 109.4 702.8 107.9 704.4 107.4"/>
<path d="M704.4 107.4C706.3 107.2 713.1 107 715.8 106.1C718.6 105.3 719.2 103.4 720.9 102.3C722.6 101.3 723.8 100.3 725.9 99.8C728 99.3 732.2 99.3 733.5 99.2"/>
<path d="M733.5 99.2 L735.4 103 L736 105.5"/>
<path d="M736 105.5C736.5 105.8 737.5 107.6 738.6 107.4C739.6 107.2 741.2 104.8 742.4 104.2C743.5 103.7 744.6 103.6 745.5 104.2C746.5 104.9 747.7 106.3 748 108C748.4 109.7 747.9 112.6 747.4 114.3C746.9 116 745.9 117 744.9 118.1C743.8 119.3 741.7 120.8 741.1 121.3"/>
<path d="M741.1 121.3C738.6 121.4 729.7 121.4 725.9 121.9C722.1 122.4 720 123.1 718.3 124.4C716.7 125.8 716.2 129.1 715.8 130"/>
<path d="M704.4 107.4 L724.7 116.2 L741.1 116.2 L741.1 121.3"/>
<path d="M724.7 116.2 L701.9 127"/>
<path d="M741.1 116.2 L747.4 113.1"/>
<path d="M728.5 100.4 L731 103.6 L734.8 104.2"/>
<ellipse cx="692.8" cy="121.3" rx="2.8" ry="1.5" transform="rotate(-5 692.8 121.3)"/>
<path d="M743.9 87.2 L743.9 103.6"/>
<path d="M677.9 123.3C677.8 124.2 677.1 127 677.3 129C677.5 131 678 133.6 679.2 135.3C680.3 137 682.3 137.8 684.2 139.1C686.1 140.3 688.4 141.8 690.5 142.9C692.6 143.9 694.8 144.6 696.9 145.4C699 146.1 701.3 147.1 703.2 147.3C705.1 147.5 707.4 146.7 708.2 146.6"/>
<ellipse cx="706.3" cy="135.9" rx="8.2" ry="11.1" transform="rotate(22 706.3 135.9)"/>
<ellipse cx="706.3" cy="136.2" rx="5.7" ry="8.3" transform="rotate(22 706.3 136.2)"/>
<path d="M702.5 139.7C703 140 704.2 141.6 705.1 141.6C705.9 141.6 707.2 140 707.6 139.7"/>
<path d="M691.8 123.3C691.4 124.2 689.8 127 689.3 129C688.8 131 688.5 133.2 688.6 135.3C688.8 137.4 689.7 140.5 689.9 141.6"/>
<path d="M691.6 144.1 L691.6 150.4"/>
<g transform="translate(691.8,151.6) rotate(90) scale(0.9,1)"><path style="fill:#2a2a2a;stroke-width:1.2" d="M0 -2.3L21.5 -2.3Q23.6 -2.3 23.6 0Q23.6 2.3 21.5 2.3L0 2.3Q-1.5 2.3 -1.5 0Q-1.5 -2.3 0 -2.3Z"/><ellipse style="fill:#fff;stroke:none" cx="1.8" cy="0" rx="0.85" ry="0.85"/><ellipse style="fill:#fff;stroke:none" cx="4.5" cy="0" rx="0.85" ry="0.85"/><ellipse style="fill:#fff;stroke:none" cx="7.2" cy="0" rx="0.85" ry="0.85"/><ellipse style="fill:#fff;stroke:none" cx="9.9" cy="0" rx="0.85" ry="0.85"/><ellipse style="fill:#fff;stroke:none" cx="12.6" cy="0" rx="0.85" ry="0.85"/><ellipse style="fill:#fff;stroke:none" cx="15.3" cy="0" rx="0.85" ry="0.85"/><ellipse style="fill:#fff;stroke:none" cx="18.0" cy="0" rx="0.85" ry="0.85"/><ellipse style="fill:#fff;stroke:none" cx="20.7" cy="0" rx="0.85" ry="0.85"/></g>
<path d="M668.4 158.6 L689.3 158.6"/>
<path d="M715.8 126.4C716.7 126 718.8 124.6 720.9 123.9C723 123.2 725.1 122.3 728.5 122C731.8 121.7 739 122 741.1 122"/>
<path d="M741.1 122C741.7 121.7 743.8 121.3 744.9 120.1C745.9 119 746.9 116.7 747.4 115.1C747.9 113.4 747.9 110.8 748 110"/>
<path d="M715.8 126.4C715.9 127.5 716.7 130.6 716.4 132.7C716.2 134.9 715.5 137.1 714.6 139.1C713.6 141.1 711.4 143.8 710.8 144.7"/>
</g>
<g class="part" id="g24_part7">
<path d="M764 104.4C764.2 104 764.2 102.3 764.8 101.6C765.4 100.8 766.5 100 767.7 100.1C768.9 100.2 770.3 100.8 772 102.3C773.7 103.7 776.1 107 777.8 108.8C779.4 110.6 781.4 112.4 782.1 113.1"/>
<path d="M782.1 113.1C782.3 114.1 783.1 117 783.5 118.9C784 120.8 784 123.2 785 124.7C785.9 126.1 787.6 126.6 789.3 127.5C791 128.5 793.6 129.2 795.1 130.4C796.5 131.6 797.5 133.1 798 134.8C798.5 136.5 798.2 138.6 798 140.5C797.7 142.5 797.1 145.1 796.5 146.3C795.9 147.5 794.7 147.5 794.4 147.8"/>
<path d="M764 104.4C764.2 105.4 764.2 108.3 764.8 110.2C765.4 112.1 766.8 114.1 767.7 116C768.5 117.9 769.1 120.1 769.8 121.8C770.5 123.5 770.8 124.8 772 126.1C773.2 127.4 776.2 129.1 777 129.7"/>
<path d="M767.7 103.7 L779.2 114.5 L782.1 129"/>
<path d="M779.2 114.5 L782.1 113.1"/>
<path d="M777 129.7 L777.8 134.8 L792.2 140.5 L793.6 147.8"/>
<path d="M782.1 129C783.8 129.7 790 131.9 792.2 133.3C794.4 134.8 794.7 135.5 795.1 137.7C795.5 139.8 794.5 144.9 794.4 146.3"/>
<path d="M777 129.7C776.9 130.6 776.9 133.4 776.3 134.8C775.7 136.1 774.6 137.3 773.4 137.7C772.2 138 769.8 137.1 769.1 136.9"/>
<path d="M766.2 136.2 L746 146.3 L743.8 149.2 L748.9 150.6"/>
<path d="M769.1 139.1 L750.3 147.8"/>
<path d="M766.2 136.2 L770.5 137.7"/>
<path d="M793.6 147.8 L818.2 157.9"/>
<path d="M727.2 146.3 L760.4 157.9"/>
<path d="M725.8 150.6 L759 162.2"/>
<ellipse cx="726.1" cy="148.5" rx="1.3" ry="2.3" transform="rotate(20 726.1 148.5)"/>
<path d="M774.9 142.7 L774.9 152.1"/>
<path d="M781.4 142.7 L781.4 152.1"/>
<ellipse cx="778.1" cy="142.3" rx="3.2" ry="1.2"/>
<path d="M774.9 152.1C775.4 152.3 776.7 153.2 777.8 153.2C778.8 153.2 780.8 152.3 781.4 152.1"/>
<ellipse cx="787.1" cy="154.7" rx="3.6" ry="1.4" transform="rotate(10 787.1 154.7)"/>
<ellipse cx="795.1" cy="157.9" rx="3.6" ry="1.4" transform="rotate(10 795.1 157.9)"/>
<ellipse cx="809.5" cy="164.4" rx="4.3" ry="1.7" transform="rotate(10 809.5 164.4)"/>
<path d="M783.5 144.2 L789.3 145.6"/>
<path d="M760.4 152.8C761.2 152.9 763.6 152.7 764.8 153.5C766 154.4 767.4 156.2 767.7 157.9C767.9 159.6 766.5 162.7 766.2 163.6"/>
<path d="M759 156.4 L761.9 152.8"/>
<path d="M767.7 159.3 L773.4 160.8 L770.5 165.1"/>
<path d="M746 160.2C746.2 161.2 746.2 164.5 747.4 166C748.6 167.4 749.8 168 753.2 168.9C756.6 169.7 763.1 170 767.7 171C772.2 172.1 776.6 174.2 780.6 175.4C784.7 176.6 789.3 177.8 792.2 178.3C795.1 178.7 796.1 178.7 798 178.3C799.9 177.8 801.8 175.7 803.8 175.4C805.7 175 807.1 175.4 809.5 176.1C811.9 176.8 815.8 178.3 818.2 179.7C820.6 181.2 822.6 182.7 824 184.8C825.3 186.8 825.5 189.6 826.1 192C826.7 194.4 826.7 197.5 827.6 199.2C828.4 200.9 830.6 201.6 831.2 202.1"/>
<path d="M753.2 163.1C755.6 163.9 762.8 166.5 767.7 168.2C772.5 169.8 777.8 172 782.1 173.2C786.4 174.4 790.5 175.1 793.6 175.4C796.8 175.6 798.7 175 800.9 174.7C803 174.3 804.7 173.2 806.6 173.2C808.6 173.2 810 173.7 812.4 174.7C814.8 175.6 818.7 177.5 821.1 179C823.5 180.4 825.9 182.6 826.9 183.3"/>
<path d="M827.6 183.3C827.7 184.5 827.9 188.1 828.3 190.5C828.7 192.9 828.8 195.7 829.7 197.8C830.7 199.8 832.4 201.9 834.1 202.8C835.8 203.8 837.9 204.1 839.9 203.5C841.8 202.9 844.2 200.9 845.6 199.2C847.1 197.5 847.9 195.6 848.5 193.4C849.1 191.3 849.4 188.6 849.2 186.2C849.1 183.8 848.5 181.2 847.8 179C847.1 176.8 845.4 174.2 844.9 173.2"/>
<ellipse cx="838.4" cy="192" rx="6.1" ry="7.5" transform="rotate(15 838.4 192)"/>
<ellipse cx="838.7" cy="192" rx="4" ry="5.2" transform="rotate(15 838.7 192)"/>
<ellipse cx="839.1" cy="191.6" rx="2" ry="2.9" transform="rotate(15 839.1 191.6)"/>
<path d="M761.9 153 L760.4 161.7"/>
<path d="M776.3 166.7 L783.5 163.8 L792.2 166.7 L789.3 170.3 L782.1 168.9Z"/>
<path d="M778.9 176.1 L778.9 195.6"/>
<path style="stroke-width:0.9" d="M839.9 192 L852.1 197"/>
<path d="M833.6 156C834.7 155.3 838.2 152.7 840.1 151.7C842.1 150.6 843.8 149.9 845.6 149.5C847.4 149.1 849.7 149.2 851 149.5C852.2 149.8 852.7 150.5 853.1 151.1C853.6 151.8 853.6 152.9 853.7 153.3"/>
<path d="M853.7 153.3C853.4 153.2 852.7 152.8 852.1 152.7C851.4 152.7 850.5 152.7 849.9 153C849.3 153.2 848.3 153.9 848.3 154.4C848.3 154.9 849.1 155.6 849.9 156C850.7 156.4 852.6 156.4 853.1 156.5"/>
<path d="M853.1 156.5C853.7 156.9 855.3 158.4 856.4 158.7C857.5 159 858.6 158.6 859.6 158.2C860.7 157.7 861.8 156.4 862.9 156C864 155.5 865.3 155.1 866.1 155.5C867 155.8 867.6 157.1 867.8 158.2C867.9 159.2 867.9 160.7 867.2 162C866.6 163.2 865.6 164.8 864 165.7C862.4 166.6 859.8 167.2 857.5 167.4C855.1 167.5 851.7 167.2 849.9 166.8C848.1 166.5 847.2 165.5 846.6 165.2"/>
<path d="M846.6 165.2 L841.2 162"/>
<path d="M867.2 162.5C866.5 163.3 864.9 166.2 862.9 167.4C860.9 168.5 857.8 169.4 855.3 169.5C852.8 169.7 849.7 168.9 847.7 168.4C845.7 168 844.1 167.1 843.4 166.8"/>
<path d="M817.4 157.1 L826.6 153.3 L841.2 161.4 L829.3 167.9 L814.2 162Z"/>
<path d="M829.3 167.9 L825 173.3 L812 169 L813.6 165.2"/>
<path d="M841.2 161.4 L840.7 164.7 L830.4 170.1"/>
<path d="M813.1 166.8 L816.3 165.7 L821.7 167.9 L823.9 171.2 L820.7 174.4 L813.1 171.2Z"/>
<path d="M841.2 167.9C842 168.6 844.5 170.6 845.6 172.2C846.6 173.9 847.2 174.7 847.7 177.7C848.3 180.6 848.6 187.9 848.8 190"/>
<path d="M828.2 180.9 L846.6 175.5"/>
<path d="M823.9 177.7 L840.1 171.2"/>
</g>
<g class="part" id="g25_shaft5">
<path d="M883.9 51.8C883.1 52.1 880 52.4 878.9 53.8C877.9 55.1 877.5 57.7 877.5 59.7C877.5 61.7 878.4 64.4 878.9 65.7C879.5 66.9 880.6 67 880.9 67.3"/>
<path d="M883.9 51.8 L933.5 72.6"/>
<path d="M880.9 67.3 L926.6 85.5"/>
<path d="M943.9 47.8 L943.9 68.6"/>
<path d="M902.7 130C903.6 128 905.7 122.2 907.8 118.1C909.9 114 912.9 109.3 915.4 105.5C917.9 101.7 920.9 98.7 923 95.4C925.1 92 926.8 88.2 928 85.3C929.3 82.3 929.5 79.9 930.5 77.7C931.6 75.5 932.6 73.5 934.3 72C936 70.5 938.5 69.3 940.7 68.8C942.8 68.4 945 68.6 947 69.1C949 69.6 951.2 70.8 952.7 72C954.1 73.2 954.7 74.5 955.8 76.4C957 78.3 958.3 81.6 959.6 83.4C960.9 85.2 962.8 86.5 963.4 87.2"/>
<path d="M909.1 130C909.9 128 912 122 914.1 118.1C916.2 114.2 919.3 110.3 921.7 106.8C924.1 103.2 926.9 100 928.6 96.6C930.4 93.3 931.3 89.5 932.4 86.5C933.6 83.6 934.3 81.1 935.6 79C936.9 76.8 938.3 75.2 940 73.9C941.7 72.6 944.2 71.7 945.7 71.4C947.2 71.1 948.3 71.9 948.9 72"/>
<path d="M949.5 77.7C948.7 77.6 945.9 76.6 944.4 77.1C943 77.5 941.6 78.6 940.7 80.2C939.7 81.8 938.9 84.4 938.8 86.5C938.7 88.6 939.3 91.3 940 92.9C940.8 94.4 942.7 95.5 943.2 96"/>
<path d="M948.9 80.8C948.2 80.8 946.1 80.3 945.1 80.8C944 81.4 943.1 82.5 942.5 84C942 85.5 941.8 88.1 941.9 89.7C942 91.3 943 92.9 943.2 93.5"/>
<path d="M948.9 80.8 L967.2 88.4"/>
<path d="M967.2 87.2C968 86.3 970.1 83.5 972.2 82.1C974.3 80.7 977.1 79.5 979.8 79C982.6 78.4 987.2 78.7 988.7 78.7"/>
<path d="M988.7 78.7 L991.2 79 L993.7 82.1 L989.9 82.7"/>
<path d="M993.7 82.1 L994.4 85.3 L1001.3 87.2"/>
<path d="M1001.3 87.2C1001.9 86.9 1003.9 85.4 1005.1 85.3C1006.3 85.2 1007.6 85.7 1008.3 86.5C1008.9 87.4 1009.2 89.2 1008.9 90.3C1008.6 91.5 1007.8 92.9 1006.4 93.5C1004.9 94.1 1001.1 94 1000 94.1"/>
<path d="M1000 94.1 L998.8 95.4 L996.2 99.8 L991.2 99.2 L967.2 89.7 L967.2 87.2"/>
<path d="M972.2 83.4 L994.4 92.2 L998.8 95.4"/>
<path d="M976 81.5 L993.7 88.4"/>
<path d="M994.4 92.2 L996.2 87.2"/>
<path d="M914.1 130C915.4 128.2 919 122.8 921.7 119.4C924.4 115.9 927.6 111.9 930.5 109.3C933.5 106.6 936.4 105 939.4 103.6C942.3 102.2 945.3 101.4 948.2 101.1C951.2 100.8 954.1 101 957.1 101.7C960 102.4 963.2 104 965.9 105.5C968.7 107 971.6 108.9 973.5 110.5C975.4 112.2 976.3 113.5 977.3 115.6C978.2 117.7 979 120.8 979.2 123.2C979.4 125.6 978.7 128.9 978.6 130"/>
<path d="M919.2 130C920.4 128.2 924.2 122.4 926.8 119.4C929.3 116.4 931.6 113.7 934.3 111.8C937.1 109.9 940.4 108.4 943.2 108C945.9 107.6 948.2 109.3 950.8 109.3C953.3 109.3 955.8 107.4 958.3 108C960.9 108.6 963.8 111 965.9 113.1C968 115.2 969.7 117.8 971 120.7C972.2 123.5 973.1 128.4 973.5 130"/>
<path d="M997.2 99.9 L1066.7 131.6"/>
<path d="M1066.7 131.6C1067.5 132 1070.6 132.5 1071.6 133.6C1072.7 134.8 1073.2 136.9 1073 138.6C1072.8 140.2 1071.9 142.4 1070.6 143.5C1069.4 144.7 1067.3 145.5 1065.7 145.5C1064 145.5 1061.5 143.9 1060.7 143.5"/>
<ellipse cx="1068.6" cy="139.2" rx="2.8" ry="4.8" transform="rotate(-10 1068.6 139.2)"/>
<ellipse cx="1068.6" cy="139.2" rx="1.4" ry="1.8"/>
<path d="M1026.9 113.8C1027.6 114.3 1029.6 116.4 1030.9 116.7C1032.2 117.1 1034.2 115.9 1034.9 115.7"/>
<path d="M1036.9 118.7C1037.5 119.1 1039.5 120.5 1040.8 120.7C1042.2 120.9 1044.2 119.9 1044.8 119.7"/>
<path d="M1044.8 122.7C1045.5 123 1047.8 124.4 1048.8 124.7C1049.8 124.9 1050.4 124.2 1050.8 124.1"/>
<path d="M909.8 113.8C908.8 116.4 905.6 124.7 903.8 129.6C902 134.6 900.2 138.9 898.9 143.5C897.5 148.2 896.1 154 895.9 157.4C895.7 160.9 897.5 163.2 897.9 164.4"/>
<path d="M897.9 164.4 L904.8 165.8 L906.8 154.5 L902.8 153.5"/>
<path d="M917.7 111.8C916.6 114.4 912.4 123 910.8 127.7C909.1 132.3 908.8 135.6 907.8 139.6C906.8 143.5 905.6 149.2 904.8 151.5C904 153.8 903.2 153.1 902.8 153.5"/>
<path d="M910.8 132.6C912.3 130.1 916.2 121.9 919.7 117.7C923.2 113.6 929.6 109.5 931.6 107.8"/>
<path d="M965.4 114.7C966 116.6 968.5 121.9 969.4 125.7C970.2 129.5 970.7 134.3 970.3 137.6C970 140.9 967.9 144.2 967.4 145.5"/>
<path d="M916.7 133.6C918.1 131.3 921.5 123.5 924.7 119.7C927.8 115.9 933.8 112.3 935.6 110.8"/>
<path d="M975.3 109.8C976 111.4 978.8 116.1 979.3 119.7C979.8 123.4 979 127.7 978.3 131.6C977.6 135.6 976.3 139.4 975.3 143.5C974.3 147.7 972.8 154.3 972.3 156.4"/>
<path d="M961.4 156.4 L972.3 158.4 L974.3 145.5 L967.4 144.5Z"/>
<path d="M963.4 145.5 L961.4 156.4"/>
<path d="M971.3 115.7C971.7 116.7 972.3 120.4 973.3 121.7C974.3 123 976.6 123.4 977.3 123.7"/>
<path d="M943.2 96 L1060.7 143.5"/>
</g>
<g class="part" id="g26_shaft3">
<path d="M858.9 192.9C858 193.4 855.1 194.4 853.9 195.9C852.7 197.4 851.7 200 851.9 201.8C852.1 203.7 854.4 206 854.9 206.8"/>
<path d="M858.9 192.9 L1006.8 255.5"/>
<path d="M854.9 206.8 L985.9 261.4"/>
<path d="M973 244.5 L977 245.1"/>
<path d="M912.5 231.6 L912.5 251.5"/>
<path d="M986.2 260.9C988.4 260.5 995.1 259.5 999.1 258.5C1003.1 257.4 1007.1 255.5 1010.3 254.5C1013.5 253.4 1015.7 252.2 1018.4 252C1021 251.9 1024.2 252.6 1026.4 253.7C1028.5 254.7 1030.3 256.7 1031.2 258.5C1032.1 260.2 1031.9 263.2 1032 264.1"/>
<path d="M1027.2 260.6C1026.4 260.3 1023.8 259.1 1022.4 259.3C1020.9 259.5 1019.6 260.6 1018.4 261.7C1017.1 262.8 1015.9 264 1015.1 265.7C1014.3 267.4 1013.4 270.3 1013.5 272.1C1013.7 274 1015 275.9 1015.9 276.9C1016.9 278 1018.6 278.3 1019.2 278.6"/>
<ellipse cx="1018" cy="270.2" rx="3.2" ry="8" transform="rotate(-12 1018 270.2)"/>
<path d="M1027.2 260.9 L1084.2 289.8"/>
<path d="M1019.2 278.6 L1079.4 301.8"/>
<path d="M1084.2 289.8C1084.9 290.1 1087.3 290.5 1088.2 291.4C1089.2 292.3 1089.8 293.9 1089.8 295.4C1089.8 296.9 1089.3 299 1088.2 300.2C1087.2 301.4 1084.9 302.4 1083.4 302.7C1081.9 302.9 1080.1 302 1079.4 301.8"/>
<ellipse cx="1085" cy="296.2" rx="2.7" ry="4.5" transform="rotate(-10 1085 296.2)"/>
<ellipse cx="1085" cy="296.2" rx="1.4" ry="1.9" transform="rotate(-10 1085 296.2)"/>
<ellipse cx="1053.7" cy="278.1" rx="1.6" ry="1.3"/>
<ellipse cx="1061.7" cy="281" rx="1.6" ry="1.3"/>
<ellipse cx="1067.3" cy="283.1" rx="1.3" ry="1.1"/>
<path d="M986.2 260.9C985.4 262.2 983 265.7 981.4 268.9C979.8 272.1 978.5 276.1 976.6 280.2C974.7 284.2 972.3 289.3 970.2 293C968 296.8 965.6 299.7 963.7 302.7C961.9 305.6 960.1 307.7 958.9 310.7C957.7 313.6 957.2 317.3 956.5 320.3C955.8 323.4 955.2 327.6 954.9 329"/>
<path d="M989.4 265.7C988.8 267 987 270.5 985.4 273.7C983.8 276.9 981.8 281.2 979.8 285C977.8 288.7 975.4 292.7 973.4 296.2C971.4 299.7 968.7 304.3 967.8 305.9"/>
<ellipse cx="994.3" cy="281" rx="4.5" ry="6.7" transform="rotate(20 994.3 281)"/>
<path d="M991.8 284.2C992 283.4 992 280.7 992.7 279.4C993.3 278 995.3 276.7 995.9 276.1"/>
<path d="M968.6 305.9C970.2 304.5 975 300.2 978.2 297.8C981.4 295.4 984.4 293.3 987.8 291.4C991.3 289.5 995.6 287.8 999.1 286.6C1002.6 285.4 1006 284.3 1008.7 284.2C1011.4 284 1013 284.6 1015.1 285.8C1017.3 287 1019.7 289.1 1021.6 291.4C1023.4 293.7 1024.8 296.5 1026.4 299.4C1028 302.4 1029.9 305.9 1031.2 309.1C1032.5 312.3 1033.7 315.4 1034.4 318.7C1035.1 322 1035.1 327.3 1035.2 329"/>
<path d="M999.1 283.4C1001 283.2 1006.8 282.3 1010.3 282.6C1013.8 282.8 1017 283.5 1020 285C1022.9 286.5 1025.9 289 1028 291.4C1030.1 293.8 1031.5 296.5 1032.8 299.4C1034.1 302.4 1035.2 305.9 1036 309.1C1036.8 312.3 1037.4 317.1 1037.6 318.7"/>
<path d="M1032.8 281.8C1033.6 284.2 1036.3 291.9 1037.6 296.2C1039 300.5 1040 304.8 1040.8 307.5C1041.6 310.1 1042.4 310.4 1042.4 312.3C1042.4 314.2 1041.6 317.4 1040.8 318.7C1040 320.1 1038.2 320.1 1037.6 320.3"/>
<path d="M970.2 293.2C969.1 294.8 965.6 299.9 963.7 302.9C961.9 305.8 960.3 307.9 958.9 310.9C957.6 313.8 956.5 317.8 955.7 320.5C954.9 323.2 954 325.5 954.1 326.9C954.2 328.4 956.1 329 956.5 329.4"/>
<path d="M956.5 329.4 L963.7 330.2"/>
<path d="M978.2 299.6C977.1 301 973.6 304.7 971.8 307.7C969.9 310.6 968 315.2 966.9 317.3C965.9 319.5 965.9 318.4 965.3 320.5C964.8 322.7 964 328.6 963.7 330.2"/>
<path d="M962.9 318.9 L966.9 320.5"/>
<path d="M970.2 306.9C972 305.4 977.4 300.4 981.4 298C985.4 295.6 990.5 293.7 994.3 292.4C998 291.1 1002.3 290.4 1003.9 290"/>
<path d="M968.6 306.1 L970.2 306.9"/>
<path d="M1011.9 290C1012.7 291.1 1014.9 293.7 1016.7 296.4C1018.6 299.1 1021.6 302.9 1023.2 306.1C1024.8 309.3 1025.7 312.2 1026.4 315.7C1027.1 319.2 1027.5 322.9 1027.2 326.9C1026.9 331 1025.7 335.8 1024.8 339.8C1023.8 343.8 1022.1 349.2 1021.6 351"/>
<path d="M1016.7 290C1017.8 291.3 1021.2 295.1 1023.2 298C1025.2 301 1027.3 304.5 1028.8 307.7C1030.3 310.9 1031.3 313.8 1032 317.3C1032.7 320.8 1032.8 325.1 1032.8 328.6C1032.8 332 1032.4 335.8 1032 338.2C1031.6 340.6 1030.7 342.2 1030.4 343"/>
<path d="M1026.4 290C1027.5 291.6 1031.1 296.2 1032.8 299.6C1034.6 303.1 1035.8 307.1 1036.8 310.9C1037.9 314.6 1038.7 318.4 1039.2 322.1C1039.8 325.9 1040.3 329.6 1040 333.4C1039.8 337.1 1038.8 341.1 1037.6 344.6C1036.4 348.1 1033.6 352.7 1032.8 354.3"/>
<path d="M1021.6 351C1022 351.6 1022.1 353.6 1024 354.3C1025.9 354.9 1031.3 354.9 1032.8 355.1"/>
<path d="M1030.4 342.2 L1036 343.8"/>
</g>
<g class="part" id="g27_shaft1">
<path d="M827.9 280.1C826.7 279.5 823.1 277.2 820.6 276.5C818.2 275.8 815.6 275.4 813.4 275.8C811.3 276.1 809.2 277.3 807.7 278.7C806.1 280 804.5 281.8 804 283.7C803.6 285.6 804.2 288.1 804.8 290.2C805.4 292.4 806.5 294.9 807.7 296.7C808.9 298.5 810.3 299.8 812 301C813.7 302.3 815.8 303.3 817.8 303.9C819.7 304.5 821.6 305 823.5 304.7C825.5 304.3 828.4 302.3 829.3 301.8"/>
<ellipse cx="824.3" cy="293.1" rx="8.7" ry="11.6" transform="rotate(15 824.3 293.1)"/>
<ellipse cx="824.3" cy="293.4" rx="6.1" ry="8.7" transform="rotate(15 824.3 293.4)"/>
<path d="M827.9 285.9C826.9 286 823.4 285.6 822.1 286.6C820.8 287.6 820 289.7 819.9 291.7C819.8 293.6 820.3 297 821.4 298.2C822.5 299.4 825.6 298.8 826.4 298.9"/>
<ellipse cx="808.4" cy="293.8" rx="2.6" ry="3.2"/>
<ellipse cx="808.4" cy="293.8" rx="1.3" ry="1.6"/>
<path d="M820.6 276.5 L823.5 270"/>
<path d="M827.9 280.1 L830.8 270"/>
<path d="M819.2 274.3 L827.9 277.2"/>
<path style="stroke-width:0.9" d="M824.3 293.1 L835.1 297.4"/>
<path style="stroke-width:0.9" d="M799 302.5 L806.2 297.4"/>
<g transform="translate(776,314.7) rotate(-27.5)"><path style="fill:#2a2a2a;stroke-width:1.2" d="M0 -2.3L21.5 -2.3Q23.6 -2.3 23.6 0Q23.6 2.3 21.5 2.3L0 2.3Q-1.5 2.3 -1.5 0Q-1.5 -2.3 0 -2.3Z"/><ellipse style="fill:#fff;stroke:none" cx="1.8" cy="0" rx="0.85" ry="0.85"/><ellipse style="fill:#fff;stroke:none" cx="4.5" cy="0" rx="0.85" ry="0.85"/><ellipse style="fill:#fff;stroke:none" cx="7.2" cy="0" rx="0.85" ry="0.85"/><ellipse style="fill:#fff;stroke:none" cx="9.9" cy="0" rx="0.85" ry="0.85"/><ellipse style="fill:#fff;stroke:none" cx="12.6" cy="0" rx="0.85" ry="0.85"/><ellipse style="fill:#fff;stroke:none" cx="15.3" cy="0" rx="0.85" ry="0.85"/><ellipse style="fill:#fff;stroke:none" cx="18.0" cy="0" rx="0.85" ry="0.85"/><ellipse style="fill:#fff;stroke:none" cx="20.7" cy="0" rx="0.85" ry="0.85"/></g>
<path d="M786.4 312.6 L786.4 332.8"/>
<path d="M821.4 305.4 L821.4 324.2"/>
<path d="M842.3 292.4C841.6 292.7 839.2 293.3 838 294.5C836.8 295.8 835.3 297.9 835.1 299.6C834.8 301.3 835.8 303.5 836.5 304.7C837.3 305.9 838.9 306.5 839.4 306.8"/>
<ellipse cx="870" cy="316.9" rx="0.9" ry="1.3"/>
<path d="M984.7 356.1C985.3 356.6 987.1 358.7 988.3 358.8C989.5 359 991.3 357.3 991.9 357"/>
<path d="M993.7 358.8C994.3 359.1 996.1 360.5 997.3 360.6C998.5 360.8 1000.3 359.9 1000.9 359.7"/>
<path d="M1002.7 360.6 L1035.2 376"/>
<path d="M1035.2 376C1036.1 376.4 1039.4 377.5 1040.6 378.7C1041.9 379.9 1042.5 381.5 1042.5 383.2C1042.5 384.8 1041.9 387.4 1040.6 388.6C1039.4 389.8 1036.1 390.1 1035.2 390.4"/>
<path d="M1013.6 382.3 L1035.2 390.4"/>
<ellipse cx="1037" cy="384.1" rx="3.2" ry="5.4" transform="rotate(-10 1037 384.1)"/>
<ellipse cx="1037.4" cy="384.4" rx="1.6" ry="2"/>
<path d="M907.4 337.1 L907.4 360.6"/>
<path d="M990.5 372.5C989.3 373.8 985.3 377.2 983 380.1C980.6 383.1 978.5 386.4 976.6 390.2C974.7 394 972.7 398.6 971.6 402.9C970.4 407.1 970 411.3 969.7 415.5C969.4 419.7 969.5 424 969.7 428.1C969.9 432.2 970.7 438 971 440"/>
<path d="M1000.7 371.9C999 373.1 993.5 376 990.5 378.8C987.6 381.7 985.1 385.2 983 389C980.9 392.7 979.2 397.4 977.9 401.6C976.6 405.8 975.9 410.2 975.4 414.2C974.9 418.2 974.6 421.3 974.7 425.6C974.9 429.9 975.8 437.6 976 440"/>
<path d="M983 440C983.1 438.2 983 433.3 983.6 429.4C984.2 425.5 985.2 420.8 986.8 416.8C988.3 412.8 990.5 409 993.1 405.4C995.6 401.8 999 398.1 1001.9 395.3C1004.9 392.4 1008 389.9 1010.8 388.3C1013.5 386.7 1015.8 385.7 1018.3 385.8C1020.9 385.9 1024 387.4 1025.9 389C1027.8 390.5 1028.9 393 1029.7 395.3C1030.6 397.6 1031.2 400.3 1031 402.9C1030.8 405.4 1028.9 409.2 1028.5 410.4"/>
<path d="M980.4 421.8C981.1 420.1 982.5 415.1 984.2 411.7C985.9 408.3 988.2 404.6 990.5 401.6C992.9 398.5 995.4 395.8 998.1 393.4C1000.9 391 1004 388.5 1007 387.1C1009.9 385.6 1013.3 384.7 1015.8 384.5C1018.3 384.3 1021.1 385.6 1022.1 385.8"/>
<path d="M975.4 425.6 L980.4 421.8"/>
<path d="M1007 372.5C1007.3 371.9 1008 371.3 1008.9 371.3C1009.7 371.3 1011.4 371.7 1012 372.5C1012.7 373.4 1012.7 374.8 1012.7 376.3C1012.7 377.8 1012.4 380.3 1012 381.4C1011.6 382.4 1010.8 382.8 1010.1 382.6C1009.5 382.4 1008.8 381.4 1008.2 380.1C1007.7 378.8 1007.2 376.3 1007 375.1C1006.8 373.8 1006.7 373.2 1007 372.5Z"/>
<path d="M990.5 372.5 L1000.7 370"/>
<path d="M1031 390.8C1031.8 391.2 1034.7 391.8 1036 392.7C1037.4 393.7 1038.8 394.9 1039.2 396.5C1039.6 398.2 1038.9 400.7 1038.6 402.9C1038.2 405 1037.7 407.4 1037.3 409.2C1036.9 411 1036.2 412.9 1036 413.6"/>
<path d="M1036 413.6 L1028.5 411.1 L1028.5 410.2"/>
<path d="M1033.5 404.1 L1037.3 405.4"/>
<path d="M969.7 410C969.6 411.7 969.1 416.3 969.1 420.1C969.1 423.9 969.4 429 969.7 432.7C970 436.5 970.5 440.5 971 442.9C971.4 445.2 971.2 445.7 972.2 446.6C973.3 447.6 975.8 448.5 977.3 448.5C978.7 448.5 980.3 447.8 981.1 446.6C981.8 445.5 981.7 443.5 981.7 441.6C981.7 439.7 981 437.6 981.1 435.3C981.2 433 981.7 430.2 982.3 427.7C983 425.2 983.6 423.1 984.9 420.1C986.1 417.2 989.1 411.7 989.9 410"/>
<path d="M975.4 410C975.3 411.7 974.9 417.4 974.7 420.1C974.6 422.8 974.5 423.3 974.7 426.4C975 429.6 975.7 435.5 976 439.1C976.3 442.6 976.5 446.4 976.6 447.9"/>
<path d="M976 439.1 L981.1 437.8"/>
<path d="M842.3 292.4 L984.7 354.3"/>
<path d="M839.4 306.8 L990.1 371.4"/>
</g>
<g class="part" id="g30_bolts">
<g transform="translate(611.8,322) rotate(22.3)"><path d="M1.5 -2.7L31 -2.7M1.5 2.7L31 2.7M1.5 -2.7Q0 0 1.5 2.7"/><path style="stroke-width:1.25" d="M3 -2.7L4.2 2.7M5 -2.7L6.2 2.7M7 -2.7L8.2 2.7M9 -2.7L10.2 2.7M11 -2.7L12.2 2.7M13 -2.7L14.2 2.7M15 -2.7L16.2 2.7M17 -2.7L18.2 2.7M19 -2.7L20.2 2.7M21 -2.7L22.2 2.7"/><ellipse class="w" cx="33.5" cy="0" rx="3.2" ry="7.4"/><path class="w" d="M33.5 -6.4L42.5 -6Q47.5 0 42.5 6L33.5 6.4Q36.5 0 33.5 -6.4Z"/><ellipse cx="42" cy="0" rx="3.4" ry="6"/><path d="M35 -2.4L42 -2.4M35 2.8L42 2.8"/></g>
<g transform="translate(696.1,291.2) rotate(22.5)"><path d="M1.5 -2.7L31 -2.7M1.5 2.7L31 2.7M1.5 -2.7Q0 0 1.5 2.7"/><path style="stroke-width:1.25" d="M3 -2.7L4.2 2.7M5 -2.7L6.2 2.7M7 -2.7L8.2 2.7M9 -2.7L10.2 2.7M11 -2.7L12.2 2.7M13 -2.7L14.2 2.7M15 -2.7L16.2 2.7M17 -2.7L18.2 2.7M19 -2.7L20.2 2.7M21 -2.7L22.2 2.7"/><ellipse class="w" cx="33.5" cy="0" rx="3.2" ry="7.4"/><path class="w" d="M33.5 -6.4L42.5 -6Q47.5 0 42.5 6L33.5 6.4Q36.5 0 33.5 -6.4Z"/><ellipse cx="42" cy="0" rx="3.4" ry="6"/><path d="M35 -2.4L42 -2.4M35 2.8L42 2.8"/></g>
<g transform="translate(525.5,483) rotate(22.5)"><path d="M1.5 -2.7L31 -2.7M1.5 2.7L31 2.7M1.5 -2.7Q0 0 1.5 2.7"/><path style="stroke-width:1.25" d="M3 -2.7L4.2 2.7M5 -2.7L6.2 2.7M7 -2.7L8.2 2.7M9 -2.7L10.2 2.7M11 -2.7L12.2 2.7M13 -2.7L14.2 2.7M15 -2.7L16.2 2.7M17 -2.7L18.2 2.7M19 -2.7L20.2 2.7M21 -2.7L22.2 2.7"/><ellipse class="w" cx="33.5" cy="0" rx="3.2" ry="7.4"/><path class="w" d="M33.5 -6.4L42.5 -6Q47.5 0 42.5 6L33.5 6.4Q36.5 0 33.5 -6.4Z"/><ellipse cx="42" cy="0" rx="3.4" ry="6"/><path d="M35 -2.4L42 -2.4M35 2.8L42 2.8"/></g>
</g>
<g class="misc" id="g50_lines">
<path style="stroke-width:1.15" d="M307.8 231.7 L324 238.5"/>
<path style="stroke-width:1.15" d="M331.2 236.2 L808 27 L878 56.1"/>
<path style="stroke-width:1.15" d="M275.3 230.8 L340.3 258.7 L664.6 117.6 L677.9 123.3"/>
<path style="stroke-width:1.15" d="M261.7 249.7 L347.5 284 L437.5 246.9"/>
<path style="stroke-width:1.15" d="M444.7 241.4 L573.9 186.5 L637.9 213.6"/>
<path style="stroke-width:1.15" d="M659.6 222.3 L804 283.7"/>
<path style="stroke-width:1.15" d="M318.1 189.4 L511.5 273 L582.9 243.4 L606.6 252.3"/>
<path style="stroke-width:1.15" d="M245.9 201.4 L448.3 290 L576.4 344.2"/>
<path style="stroke-width:1.15" d="M611.8 320.2 L594.1 313.3 L594.7 351.8 L584 348.5"/>
<path style="stroke-width:1.15" d="M199 340.8 L450.4 448.8"/>
<path style="stroke-width:1.15" d="M459.4 454.2 L525 482"/>
<path d="M457.3 461.4 L457.3 482.2"/>
<path d="M537 491 L537 506.9"/>
</g>
<g class="misc" id="g60_labels">
<text transform="translate(943.9,45.2) scale(1.1,1)" class="lb" text-anchor="middle" font-size="16">5</text>
<text transform="translate(742.7,85.0) scale(1.1,1)" class="lb" text-anchor="middle" font-size="16">4</text>
<text transform="translate(657.0,164.1) scale(1.1,1)" class="lb" text-anchor="middle" font-size="16">11</text>
<text transform="translate(779.5,211.2) scale(1.1,1)" class="lb" text-anchor="middle" font-size="16">7</text>
<text transform="translate(647.4,203.5) scale(1.1,1)" class="lb" text-anchor="middle" font-size="16">9</text>
<text transform="translate(913.0,267.8) scale(1.1,1)" class="lb" text-anchor="middle" font-size="16">3</text>
<text transform="translate(628.2,305.4) scale(1.1,1)" class="lb" text-anchor="middle" font-size="16">10</text>
<text transform="translate(711.0,335.9) scale(1.1,1)" class="lb" text-anchor="middle" font-size="16">10</text>
<text transform="translate(785.8,349.7) scale(1.1,1)" class="lb" text-anchor="middle" font-size="16">11</text>
<text transform="translate(821.8,340.3) scale(1.1,1)" class="lb" text-anchor="middle" font-size="16">2</text>
<text transform="translate(907.2,376.4) scale(1.1,1)" class="lb" text-anchor="middle" font-size="16">1</text>
<text transform="translate(696.7,382.2) scale(1.1,1)" class="lb" text-anchor="middle" font-size="16">8</text>
<text transform="translate(457.4,498.8) scale(1.1,1)" class="lb" text-anchor="middle" font-size="16">6</text>
<text transform="translate(537.7,523.9) scale(1.1,1)" class="lb" text-anchor="middle" font-size="16">10</text>
<text class="ser" x="859.6" y="511.9" font-size="14.2" textLength="99.3" lengthAdjust="spacingAndGlyphs">S3YA M0700</text>
<text transform="translate(73.5,496.3) rotate(-27)" font-weight="bold" font-size="19" style="stroke:#000;stroke-width:0.7">FR.</text>
<path class="f" d="M39.7 508.6 L43.3 492 L46.2 496 L67.9 485.1 L73.6 497 L53.7 507.1 L56 512.9Z"/>
</g>
</svg>
</body>
</html>
